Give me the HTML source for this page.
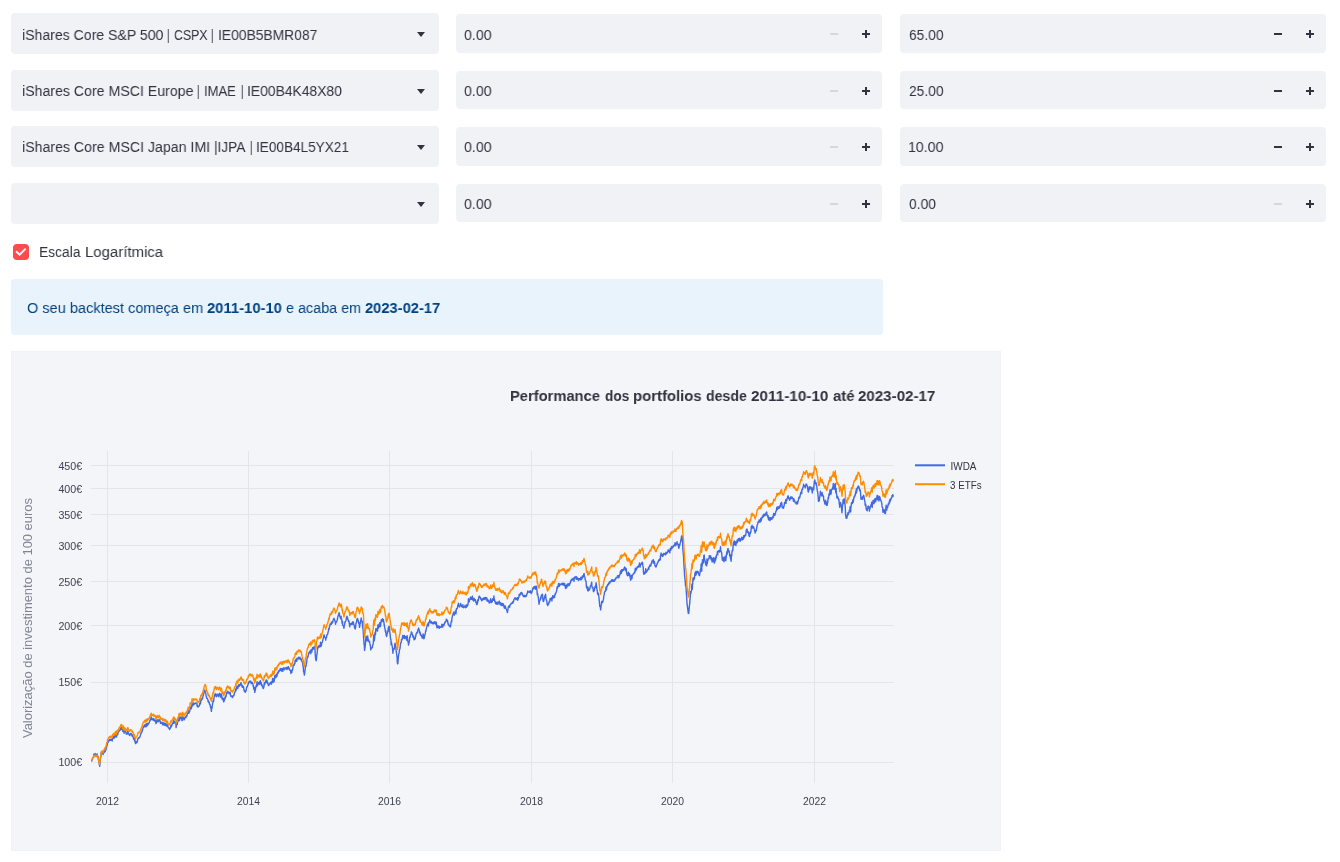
<!DOCTYPE html>
<html lang="pt"><head><meta charset="utf-8"><title>Backtest</title>
<style>
html,body{margin:0;padding:0;background:#fff;}
body{width:1340px;height:862px;overflow:hidden;position:relative;font-family:'Liberation Sans', sans-serif;color:#31333F;}
.t{position:absolute;white-space:nowrap;line-height:1;transform-origin:0 0;will-change:transform;}
.sel{position:absolute;left:11px;width:428px;height:41px;background:#F0F2F6;border-radius:4px;}
.num{position:absolute;width:426px;height:38.5px;background:#F0F2F6;border-radius:4px;}
.arr{position:absolute;right:14.5px;top:19px;width:0;height:0;border-left:4.5px solid transparent;border-right:4.5px solid transparent;border-top:5px solid #31333F;}
.minus,.plus{position:absolute;top:0;width:32px;height:100%;}
.minus{right:32px}.plus{right:0}
.minus:before,.plus:before,.plus:after{content:"";position:absolute;background:#31333F;left:12px;top:19px;width:8px;height:2px;}
.plus:after{left:15px;top:16px;width:2px;height:8px;}
.dis:before{background:#D3D7E0;}
.cbx{position:absolute;left:13px;top:244px;width:16px;height:16px;background:#FF4B4B;border-radius:4px;}
.info{position:absolute;left:11px;top:279px;width:872px;height:56px;background:#E8F3FC;border-radius:4px;}
.panel{position:absolute;left:11px;top:351px;width:990px;height:500px;background:#F4F5F9;box-shadow:inset 0 0 0 1px #F1F2F6;}
.chart{position:absolute;left:0;top:0;will-change:transform;}
</style></head><body>
<div class="sel" style="top:13.0px"><i class="arr"></i></div>
<div class="num" style="left:456px;top:14.0px"><i class="minus dis"></i><i class="plus"></i></div>
<div class="num" style="left:900px;top:14.0px"><i class="minus"></i><i class="plus"></i></div>
<div class="sel" style="top:69.5px"><i class="arr"></i></div>
<div class="num" style="left:456px;top:70.5px"><i class="minus dis"></i><i class="plus"></i></div>
<div class="num" style="left:900px;top:70.5px"><i class="minus"></i><i class="plus"></i></div>
<div class="sel" style="top:126.0px"><i class="arr"></i></div>
<div class="num" style="left:456px;top:127.0px"><i class="minus dis"></i><i class="plus"></i></div>
<div class="num" style="left:900px;top:127.0px"><i class="minus"></i><i class="plus"></i></div>
<div class="sel" style="top:182.5px"><i class="arr"></i></div>
<div class="num" style="left:456px;top:183.5px"><i class="minus dis"></i><i class="plus"></i></div>
<div class="num" style="left:900px;top:183.5px"><i class="minus dis"></i><i class="plus"></i></div>
<div class="cbx"><svg width="16" height="16" viewBox="0 0 16 16"><path d="M3.8 7.9 L6.6 10.7 L12 5.3" fill="none" stroke="#F0F4F8" stroke-width="2" stroke-linecap="square"/></svg></div>
<div class="info"></div>
<div class="panel"><svg class="chart" width="990" height="500" viewBox="11 351 990 500">
<g stroke="#E2E5EC" stroke-width="1" shape-rendering="crispEdges"><line x1="91" x2="894" y1="762.5" y2="762.5"/>
<line x1="91" x2="894" y1="682.5" y2="682.5"/>
<line x1="91" x2="894" y1="625.5" y2="625.5"/>
<line x1="91" x2="894" y1="581.5" y2="581.5"/>
<line x1="91" x2="894" y1="545.5" y2="545.5"/>
<line x1="91" x2="894" y1="514.5" y2="514.5"/>
<line x1="91" x2="894" y1="488.5" y2="488.5"/>
<line x1="91" x2="894" y1="465.5" y2="465.5"/>
<line x1="107.5" x2="107.5" y1="451" y2="783"/>
<line x1="248.5" x2="248.5" y1="451" y2="783"/>
<line x1="389.5" x2="389.5" y1="451" y2="783"/>
<line x1="531.5" x2="531.5" y1="451" y2="783"/>
<line x1="672.5" x2="672.5" y1="451" y2="783"/>
<line x1="814.5" x2="814.5" y1="451" y2="783"/></g>
<g font-family="Liberation Sans, sans-serif" font-size="11" fill="#3E4250"><text x="82.2" y="765.9" text-anchor="end" textLength="23.8" lengthAdjust="spacingAndGlyphs">100€</text>
<text x="82.2" y="685.9" text-anchor="end" textLength="23.8" lengthAdjust="spacingAndGlyphs">150€</text>
<text x="82.2" y="629.8" text-anchor="end" textLength="23.8" lengthAdjust="spacingAndGlyphs">200€</text>
<text x="82.2" y="585.8" text-anchor="end" textLength="23.8" lengthAdjust="spacingAndGlyphs">250€</text>
<text x="82.2" y="549.6" text-anchor="end" textLength="23.8" lengthAdjust="spacingAndGlyphs">300€</text>
<text x="82.2" y="518.7" text-anchor="end" textLength="23.8" lengthAdjust="spacingAndGlyphs">350€</text>
<text x="82.2" y="493.0" text-anchor="end" textLength="23.8" lengthAdjust="spacingAndGlyphs">400€</text>
<text x="82.2" y="469.9" text-anchor="end" textLength="23.8" lengthAdjust="spacingAndGlyphs">450€</text>
<text x="107.5" y="805" text-anchor="middle" textLength="23" lengthAdjust="spacingAndGlyphs">2012</text>
<text x="248.5" y="805" text-anchor="middle" textLength="23" lengthAdjust="spacingAndGlyphs">2014</text>
<text x="389.5" y="805" text-anchor="middle" textLength="23" lengthAdjust="spacingAndGlyphs">2016</text>
<text x="531.5" y="805" text-anchor="middle" textLength="23" lengthAdjust="spacingAndGlyphs">2018</text>
<text x="672.5" y="805" text-anchor="middle" textLength="23" lengthAdjust="spacingAndGlyphs">2020</text>
<text x="814.5" y="805" text-anchor="middle" textLength="23" lengthAdjust="spacingAndGlyphs">2022</text></g>
<text transform="translate(32,618) rotate(-90)" x="0" y="0" text-anchor="middle" font-family="Liberation Sans, sans-serif" font-size="13" fill="#808495" textLength="240" lengthAdjust="spacingAndGlyphs">Valorização de investimento de 100 euros</text>
<g fill="none" stroke-width="1.4" stroke-linejoin="round">
<polyline stroke="#4169E1" points="91.3,761.4 91.6,761.2 91.9,760.8 92.1,759.5 92.4,758.7 92.7,757.8 93.0,757.7 93.3,756.9 93.5,756.8 93.8,754.3 94.1,755.8 94.4,754.5 94.7,754.3 94.9,753.8 95.2,753.6 95.5,754.5 95.8,755.4 96.1,754.8 96.3,754.8 96.6,755.8 96.9,754.7 97.2,753.8 97.5,755.6 97.7,756.3 98.0,756.3 98.3,758.3 98.6,760.3 98.9,761.2 99.1,762.1 99.4,764.9 99.7,766.3 100.0,763.3 100.3,760.1 100.5,758.6 100.8,756.9 101.1,753.7 101.4,751.9 101.7,752.8 101.9,752.1 102.2,751.5 102.5,752.7 102.8,753.3 103.1,754.6 103.3,752.8 103.6,753.1 103.9,752.8 104.2,751.0 104.5,751.8 104.7,752.0 105.0,750.2 105.3,751.3 105.6,750.5 105.9,749.6 106.1,748.5 106.4,748.1 106.7,745.2 107.0,745.6 107.3,745.2 107.5,742.2 107.8,742.7 108.1,741.8 108.4,742.0 108.7,740.7 108.9,740.6 109.2,740.8 109.5,739.5 109.8,740.5 110.1,740.0 110.3,740.3 110.6,739.2 110.9,740.4 111.2,740.2 111.5,739.2 111.7,739.6 112.0,740.2 112.3,740.9 112.6,737.5 112.9,738.8 113.1,738.6 113.4,737.8 113.7,736.4 114.0,738.1 114.3,735.9 114.5,736.8 114.8,737.7 115.1,734.9 115.4,735.0 115.7,733.8 115.9,734.9 116.2,736.3 116.5,737.1 116.8,733.3 117.1,732.9 117.3,733.9 117.6,734.9 117.9,733.8 118.2,732.0 118.5,732.2 118.7,731.7 119.0,731.1 119.3,730.1 119.6,730.7 119.9,730.6 120.1,729.9 120.4,729.3 120.7,727.7 121.0,727.8 121.3,729.3 121.5,728.2 121.8,726.3 122.1,728.9 122.4,729.2 122.7,731.2 122.9,730.0 123.2,729.2 123.5,728.1 123.8,730.8 124.1,733.3 124.3,730.9 124.6,730.4 124.9,731.7 125.2,730.9 125.5,731.5 125.7,731.8 126.0,732.6 126.3,734.1 126.6,733.6 126.9,734.4 127.1,733.3 127.4,733.7 127.7,731.4 128.0,731.3 128.3,733.6 128.5,733.0 128.8,734.1 129.1,734.4 129.4,735.4 129.7,735.2 129.9,735.4 130.2,734.4 130.5,733.6 130.8,733.5 131.1,734.0 131.3,733.8 131.6,734.5 131.9,735.5 132.2,736.4 132.5,736.3 132.7,734.9 133.0,736.6 133.3,737.7 133.6,739.2 133.9,739.4 134.1,738.5 134.4,738.3 134.7,741.3 135.0,741.3 135.3,742.6 135.5,743.6 135.8,741.2 136.1,741.8 136.4,742.3 136.7,742.8 136.9,742.5 137.2,741.6 137.5,741.0 137.8,738.7 138.1,738.9 138.3,738.0 138.6,738.3 138.9,737.4 139.2,737.9 139.5,737.9 139.7,737.1 140.0,736.4 140.3,735.7 140.6,734.5 140.9,733.8 141.1,732.8 141.4,732.9 141.7,732.1 142.0,731.9 142.3,729.4 142.5,730.4 142.8,728.5 143.1,727.5 143.4,727.2 143.7,726.2 143.9,726.8 144.2,726.0 144.5,725.1 144.8,724.9 145.1,727.0 145.3,726.3 145.6,724.7 145.9,725.2 146.2,723.7 146.5,726.5 146.7,724.0 147.0,725.0 147.3,725.4 147.6,723.3 147.9,724.0 148.1,724.6 148.4,724.0 148.7,723.2 149.0,723.3 149.3,722.2 149.5,721.7 149.8,720.7 150.1,720.8 150.4,718.9 150.7,719.7 150.9,718.3 151.2,716.9 151.5,717.6 151.8,719.5 152.1,719.8 152.3,718.6 152.6,719.8 152.9,719.3 153.2,719.7 153.5,720.3 153.7,718.4 154.0,720.5 154.3,720.3 154.6,720.9 154.9,720.2 155.1,719.8 155.4,720.2 155.7,722.1 156.0,723.6 156.3,722.3 156.5,722.9 156.8,721.7 157.1,719.5 157.4,720.8 157.7,721.5 157.9,720.8 158.2,721.3 158.5,721.6 158.8,720.2 159.1,719.1 159.3,719.9 159.6,720.3 159.9,720.4 160.2,722.0 160.5,723.4 160.7,721.7 161.0,722.4 161.3,723.0 161.6,723.1 161.9,723.6 162.1,722.4 162.4,723.2 162.7,724.9 163.0,724.4 163.3,722.8 163.5,723.6 163.8,724.7 164.1,724.3 164.4,723.2 164.7,725.2 164.9,723.1 165.2,724.4 165.5,724.5 165.8,723.5 166.1,725.8 166.3,725.9 166.6,724.5 166.9,726.1 167.2,725.7 167.5,724.3 167.7,725.2 168.0,726.7 168.3,727.8 168.6,727.9 168.9,727.9 169.1,728.6 169.4,728.3 169.7,729.5 170.0,728.5 170.3,727.9 170.5,727.7 170.8,725.7 171.1,725.1 171.4,726.8 171.7,725.9 171.9,724.7 172.2,724.6 172.5,723.4 172.8,723.5 173.1,722.3 173.3,722.5 173.6,720.7 173.9,723.3 174.2,722.4 174.5,721.1 174.7,722.1 175.0,722.5 175.3,723.2 175.6,722.3 175.9,723.6 176.1,727.6 176.4,724.0 176.7,724.5 177.0,724.1 177.3,724.6 177.5,722.2 177.8,720.9 178.1,721.3 178.4,720.2 178.7,720.7 178.9,717.6 179.2,717.7 179.5,720.6 179.8,717.9 180.1,716.8 180.3,717.4 180.6,717.6 180.9,718.6 181.2,718.3 181.5,717.3 181.7,718.0 182.0,720.7 182.3,720.3 182.6,716.0 182.9,717.3 183.1,717.0 183.4,718.5 183.7,718.2 184.0,720.0 184.3,719.4 184.5,719.0 184.8,717.9 185.1,717.1 185.4,717.0 185.7,717.8 185.9,717.1 186.2,715.8 186.5,716.8 186.8,715.9 187.1,715.1 187.3,713.9 187.6,713.5 187.9,713.1 188.2,710.6 188.5,713.4 188.7,713.3 189.0,712.0 189.3,712.4 189.6,711.5 189.9,710.6 190.1,706.9 190.4,707.5 190.7,708.0 191.0,708.8 191.3,708.9 191.5,708.1 191.8,705.2 192.1,703.0 192.4,704.9 192.7,705.0 192.9,705.8 193.2,704.8 193.5,704.7 193.8,702.8 194.1,704.0 194.3,703.4 194.6,703.9 194.9,704.0 195.2,703.4 195.5,703.5 195.7,703.0 196.0,703.5 196.3,703.6 196.6,703.1 196.9,703.2 197.1,706.1 197.4,705.5 197.7,706.8 198.0,707.1 198.3,706.5 198.5,706.3 198.8,706.3 199.1,706.0 199.4,705.9 199.7,703.4 199.9,702.8 200.2,702.7 200.5,703.9 200.8,699.8 201.1,700.8 201.3,699.7 201.6,699.9 201.9,698.5 202.2,698.3 202.5,698.9 202.7,697.3 203.0,696.3 203.3,695.3 203.6,693.3 203.9,693.3 204.1,692.0 204.4,690.4 204.7,690.1 205.0,690.3 205.3,692.3 205.5,692.7 205.8,693.0 206.1,695.7 206.4,696.8 206.7,698.0 206.9,698.4 207.2,698.4 207.5,698.6 207.8,699.5 208.1,701.6 208.3,701.9 208.6,700.9 208.9,702.5 209.2,702.2 209.5,704.2 209.7,704.0 210.0,704.3 210.3,706.4 210.6,707.4 210.9,706.6 211.1,709.3 211.4,711.4 211.7,707.2 212.0,708.4 212.3,705.5 212.5,704.0 212.8,703.0 213.1,700.6 213.4,701.9 213.7,700.7 213.9,698.3 214.2,697.2 214.5,694.8 214.8,694.4 215.1,695.9 215.3,693.6 215.6,694.1 215.9,694.9 216.2,696.0 216.5,696.7 216.7,695.0 217.0,694.1 217.3,695.0 217.6,694.4 217.9,694.2 218.1,695.6 218.4,696.6 218.7,695.5 219.0,694.8 219.3,695.4 219.5,693.1 219.8,694.3 220.1,693.7 220.4,697.2 220.7,696.7 220.9,696.2 221.2,696.0 221.5,693.9 221.8,696.8 222.1,699.1 222.3,697.7 222.6,699.1 222.9,699.9 223.2,698.1 223.5,700.4 223.7,701.9 224.0,701.1 224.3,699.9 224.6,700.0 224.9,697.2 225.1,697.5 225.4,698.2 225.7,695.6 226.0,696.6 226.3,695.1 226.5,692.5 226.8,693.2 227.1,692.1 227.4,692.7 227.7,691.1 227.9,693.0 228.2,692.0 228.5,692.8 228.8,692.1 229.1,692.2 229.3,693.9 229.6,693.5 229.9,692.8 230.2,692.3 230.5,695.1 230.7,696.0 231.0,695.7 231.3,696.6 231.6,696.1 231.9,696.3 232.1,696.9 232.4,697.5 232.7,697.2 233.0,695.6 233.3,696.2 233.5,696.0 233.8,694.9 234.1,695.0 234.4,693.2 234.7,692.4 234.9,692.3 235.2,691.3 235.5,691.4 235.8,688.9 236.1,690.4 236.3,688.2 236.6,687.7 236.9,686.1 237.2,687.5 237.5,688.5 237.7,688.5 238.0,688.1 238.3,685.3 238.6,685.0 238.9,685.1 239.1,684.5 239.4,686.2 239.7,685.7 240.0,685.2 240.3,685.3 240.5,683.8 240.8,683.1 241.1,682.8 241.4,684.4 241.7,685.2 241.9,686.0 242.2,687.2 242.5,685.4 242.8,685.9 243.1,687.2 243.3,686.4 243.6,687.3 243.9,689.5 244.2,690.7 244.5,691.4 244.7,690.9 245.0,690.8 245.3,692.4 245.6,691.0 245.9,690.5 246.1,690.9 246.4,688.7 246.7,687.2 247.0,686.7 247.3,686.7 247.5,686.0 247.8,684.9 248.1,684.7 248.4,682.4 248.7,682.2 248.9,683.1 249.2,682.2 249.5,681.3 249.8,681.1 250.1,681.2 250.3,681.8 250.6,681.1 250.9,682.0 251.2,683.7 251.5,682.3 251.7,683.2 252.0,683.2 252.3,682.3 252.6,683.5 252.9,683.7 253.1,686.1 253.4,685.6 253.7,688.5 254.0,689.3 254.3,687.4 254.5,690.2 254.8,692.4 255.1,689.8 255.4,690.3 255.7,687.1 255.9,687.6 256.2,685.4 256.5,686.4 256.8,683.9 257.1,681.7 257.3,683.6 257.6,685.7 257.9,683.3 258.2,683.9 258.5,683.3 258.7,682.5 259.0,683.2 259.3,684.3 259.6,681.7 259.9,682.5 260.1,682.5 260.4,680.6 260.7,683.0 261.0,684.5 261.3,682.6 261.5,685.2 261.8,684.7 262.1,684.8 262.4,686.9 262.7,686.8 262.9,687.2 263.2,688.6 263.5,688.2 263.8,687.4 264.1,684.4 264.3,682.8 264.6,684.7 264.9,682.9 265.2,683.1 265.5,681.5 265.7,681.6 266.0,680.1 266.3,682.3 266.6,680.0 266.9,680.1 267.1,681.1 267.4,683.5 267.7,682.3 268.0,684.0 268.3,685.0 268.5,685.6 268.8,685.5 269.1,684.3 269.4,684.3 269.7,683.5 269.9,683.9 270.2,683.2 270.5,682.1 270.8,682.2 271.1,682.4 271.3,684.2 271.6,681.9 271.9,681.8 272.2,682.8 272.5,679.4 272.7,678.4 273.0,678.5 273.3,679.5 273.6,682.3 273.9,681.1 274.1,681.3 274.4,679.8 274.7,676.5 275.0,675.2 275.3,677.8 275.5,677.6 275.8,675.6 276.1,677.1 276.4,674.5 276.7,676.0 276.9,676.6 277.2,674.1 277.5,672.6 277.8,673.7 278.1,671.8 278.3,672.8 278.6,670.7 278.9,671.7 279.2,671.3 279.5,670.6 279.7,669.7 280.0,670.5 280.3,668.5 280.6,669.4 280.9,669.4 281.1,670.5 281.4,668.8 281.7,671.1 282.0,669.8 282.3,668.4 282.5,670.4 282.8,671.3 283.1,669.6 283.4,668.2 283.7,668.5 283.9,667.8 284.2,667.9 284.5,669.7 284.8,669.1 285.1,668.5 285.3,668.4 285.6,667.9 285.9,668.6 286.2,668.7 286.5,667.4 286.7,667.4 287.0,669.6 287.3,668.3 287.6,667.1 287.9,668.9 288.1,667.7 288.4,666.6 288.7,668.4 289.0,667.8 289.3,668.4 289.5,669.8 289.8,670.2 290.1,670.0 290.4,670.6 290.7,671.1 290.9,673.5 291.2,671.6 291.5,670.5 291.8,672.3 292.1,669.8 292.3,670.4 292.6,670.0 292.9,667.8 293.2,665.2 293.5,665.7 293.7,665.6 294.0,665.4 294.3,663.8 294.6,663.9 294.9,663.6 295.1,660.5 295.4,661.5 295.7,660.5 296.0,659.4 296.3,659.2 296.5,661.3 296.8,661.1 297.1,658.1 297.4,658.9 297.7,658.9 297.9,658.8 298.2,658.3 298.5,657.1 298.8,659.0 299.1,657.8 299.3,657.8 299.6,657.6 299.9,657.3 300.2,658.9 300.5,659.5 300.7,658.8 301.0,658.5 301.3,659.2 301.6,661.1 301.9,661.2 302.1,661.6 302.4,662.0 302.7,663.9 303.0,666.3 303.3,666.4 303.5,671.2 303.8,671.7 304.1,673.4 304.4,675.1 304.7,673.1 304.9,671.2 305.2,669.0 305.5,666.2 305.8,666.1 306.1,666.1 306.3,663.0 306.6,663.2 306.9,659.8 307.2,658.0 307.5,657.7 307.7,656.6 308.0,656.9 308.3,655.2 308.6,654.1 308.9,652.6 309.1,652.4 309.4,652.3 309.7,651.6 310.0,652.8 310.3,652.0 310.5,650.1 310.8,653.7 311.1,651.3 311.4,649.8 311.7,651.5 311.9,651.8 312.2,649.3 312.5,647.8 312.8,647.5 313.1,649.4 313.3,648.3 313.6,647.2 313.9,647.3 314.2,648.4 314.5,646.4 314.7,648.8 315.0,650.0 315.3,655.4 315.6,658.4 315.9,659.9 316.1,660.7 316.4,659.9 316.7,655.2 317.0,654.6 317.3,651.5 317.5,649.1 317.8,647.6 318.1,646.2 318.4,647.1 318.7,647.4 318.9,646.9 319.2,645.4 319.5,646.4 319.8,645.8 320.1,646.8 320.3,644.8 320.6,642.1 320.9,643.4 321.2,646.2 321.5,644.8 321.7,643.1 322.0,643.1 322.3,642.1 322.6,641.2 322.9,639.4 323.1,638.8 323.4,638.2 323.7,636.6 324.0,635.0 324.3,635.4 324.5,636.9 324.8,637.3 325.1,637.5 325.4,637.7 325.7,640.1 325.9,637.9 326.2,637.4 326.5,637.7 326.8,635.4 327.1,634.4 327.3,634.4 327.6,634.6 327.9,632.8 328.2,631.7 328.5,630.6 328.7,628.4 329.0,629.6 329.3,628.2 329.6,625.7 329.9,626.0 330.1,624.1 330.4,623.8 330.7,624.3 331.0,623.2 331.3,624.4 331.5,621.9 331.8,622.4 332.1,622.5 332.4,623.0 332.7,622.3 332.9,620.9 333.2,619.9 333.5,619.0 333.8,619.6 334.1,618.3 334.3,619.7 334.6,620.0 334.9,621.0 335.2,621.2 335.5,624.3 335.7,622.9 336.0,622.7 336.3,622.0 336.6,621.7 336.9,620.9 337.1,620.1 337.4,619.9 337.7,616.8 338.0,616.7 338.3,615.0 338.5,615.4 338.8,613.5 339.1,612.6 339.4,613.7 339.7,616.2 339.9,616.7 340.2,617.0 340.5,618.7 340.8,617.3 341.1,616.1 341.3,617.9 341.6,619.1 341.9,621.5 342.2,623.7 342.5,621.4 342.7,624.9 343.0,625.7 343.3,625.7 343.6,625.6 343.9,628.2 344.1,626.9 344.4,624.8 344.7,624.1 345.0,621.8 345.3,622.2 345.5,621.2 345.8,620.8 346.1,620.1 346.4,617.8 346.7,618.8 346.9,616.2 347.2,618.2 347.5,617.1 347.8,619.4 348.1,619.6 348.3,621.2 348.6,621.7 348.9,620.9 349.2,622.4 349.5,624.7 349.7,626.8 350.0,625.4 350.3,623.6 350.6,623.9 350.9,624.4 351.1,623.9 351.4,623.2 351.7,624.4 352.0,624.6 352.3,624.1 352.5,621.9 352.8,622.0 353.1,622.5 353.4,621.9 353.7,624.5 353.9,625.0 354.2,625.0 354.5,627.4 354.8,628.1 355.1,628.8 355.3,628.9 355.6,627.2 355.9,623.7 356.2,622.6 356.5,622.8 356.7,620.2 357.0,619.3 357.3,618.5 357.6,618.6 357.9,620.0 358.1,621.0 358.4,620.9 358.7,623.0 359.0,624.1 359.3,624.5 359.5,627.4 359.8,626.0 360.1,622.8 360.4,623.3 360.7,620.6 360.9,619.8 361.2,618.0 361.5,620.3 361.8,620.8 362.1,621.7 362.3,621.6 362.6,627.8 362.9,627.8 363.2,630.9 363.5,636.2 363.7,639.0 364.0,643.5 364.3,645.1 364.6,650.5 364.9,648.1 365.1,646.8 365.4,644.2 365.7,639.5 366.0,636.3 366.3,637.1 366.5,640.1 366.8,640.8 367.1,641.1 367.4,637.9 367.7,635.9 367.9,638.3 368.2,639.7 368.5,639.9 368.8,641.4 369.1,641.9 369.3,641.1 369.6,641.7 369.9,643.9 370.2,645.1 370.5,645.7 370.7,649.9 371.0,648.1 371.3,648.6 371.6,647.6 371.9,647.6 372.1,647.8 372.4,647.3 372.7,645.3 373.0,644.6 373.3,643.2 373.5,639.2 373.8,635.0 374.1,640.9 374.4,640.1 374.7,637.7 374.9,633.7 375.2,632.1 375.5,634.6 375.8,628.7 376.1,629.4 376.3,630.6 376.6,629.2 376.9,629.6 377.2,628.2 377.5,631.1 377.7,627.0 378.0,624.8 378.3,626.1 378.6,628.0 378.9,626.2 379.1,627.0 379.4,624.7 379.7,622.7 380.0,625.5 380.3,626.4 380.5,626.5 380.8,623.3 381.1,620.9 381.4,619.8 381.7,620.5 381.9,621.6 382.2,621.6 382.5,618.6 382.8,619.6 383.1,619.4 383.3,619.4 383.6,621.0 383.9,622.3 384.2,625.0 384.5,626.3 384.7,628.0 385.0,628.3 385.3,631.0 385.6,632.3 385.9,631.0 386.1,635.3 386.4,635.7 386.7,636.5 387.0,634.6 387.3,633.4 387.5,632.9 387.8,631.8 388.1,630.2 388.4,627.1 388.7,630.7 388.9,626.4 389.2,626.3 389.5,629.8 389.8,631.8 390.1,634.0 390.3,636.2 390.6,638.9 390.9,639.6 391.2,644.9 391.5,642.2 391.7,644.3 392.0,645.3 392.3,646.6 392.6,649.5 392.9,653.3 393.1,651.1 393.4,648.9 393.7,649.4 394.0,648.4 394.3,649.2 394.5,647.2 394.8,644.5 395.1,643.1 395.4,645.6 395.7,647.2 395.9,647.4 396.2,650.9 396.5,653.2 396.8,655.3 397.1,657.1 397.3,662.2 397.6,663.9 397.9,663.3 398.2,659.2 398.5,655.9 398.7,654.6 399.0,653.6 399.3,651.2 399.6,649.3 399.9,649.2 400.1,647.7 400.4,644.6 400.7,643.6 401.0,642.2 401.3,642.2 401.5,639.5 401.8,639.3 402.1,639.7 402.4,638.2 402.7,635.6 402.9,635.4 403.2,636.5 403.5,637.4 403.8,638.3 404.1,637.3 404.3,635.4 404.6,638.5 404.9,638.1 405.2,638.2 405.5,638.1 405.7,636.4 406.0,637.1 406.3,638.4 406.6,640.1 406.9,639.6 407.1,635.6 407.4,638.2 407.7,640.1 408.0,642.2 408.3,642.4 408.5,645.0 408.8,643.7 409.1,642.5 409.4,640.9 409.7,636.9 409.9,637.6 410.2,637.0 410.5,634.7 410.8,634.7 411.1,633.9 411.3,631.9 411.6,631.9 411.9,632.7 412.2,634.3 412.5,634.7 412.7,636.7 413.0,635.1 413.3,637.2 413.6,636.9 413.9,638.9 414.1,639.9 414.4,639.2 414.7,638.4 415.0,637.8 415.3,638.9 415.5,635.8 415.8,636.5 416.1,633.7 416.4,633.4 416.7,633.6 416.9,632.1 417.2,632.3 417.5,632.5 417.8,630.0 418.1,629.9 418.3,629.3 418.6,628.0 418.9,629.7 419.2,629.9 419.5,632.5 419.7,631.4 420.0,633.9 420.3,632.8 420.6,635.2 420.9,634.9 421.1,635.0 421.4,635.6 421.7,636.2 422.0,637.2 422.3,638.2 422.5,636.7 422.8,635.5 423.1,633.9 423.4,635.9 423.7,638.1 423.9,638.7 424.2,638.3 424.5,636.6 424.8,635.0 425.1,634.1 425.3,633.7 425.6,630.7 425.9,631.4 426.2,628.7 426.5,628.4 426.7,627.1 427.0,626.2 427.3,625.0 427.6,624.1 427.9,624.3 428.1,623.2 428.4,626.0 428.7,623.7 429.0,622.4 429.3,622.2 429.5,621.6 429.8,620.0 430.1,621.7 430.4,622.8 430.7,621.4 430.9,622.4 431.2,621.5 431.5,622.4 431.8,623.2 432.1,623.6 432.3,623.6 432.6,622.5 432.9,623.7 433.2,622.8 433.5,623.3 433.7,623.8 434.0,623.0 434.3,621.7 434.6,623.2 434.9,622.0 435.1,622.0 435.4,622.0 435.7,624.2 436.0,624.1 436.3,622.1 436.5,624.7 436.8,627.1 437.1,627.9 437.4,625.9 437.7,626.0 437.9,626.7 438.2,627.5 438.5,627.1 438.8,626.0 439.1,627.7 439.3,628.3 439.6,626.7 439.9,626.7 440.2,627.2 440.5,626.9 440.7,627.2 441.0,627.4 441.3,627.0 441.6,626.0 441.9,624.2 442.1,625.4 442.4,626.5 442.7,627.2 443.0,625.3 443.3,624.4 443.5,625.4 443.8,625.6 444.1,624.4 444.4,624.2 444.7,622.5 444.9,623.1 445.2,621.7 445.5,621.8 445.8,621.7 446.1,621.1 446.3,619.1 446.6,619.6 446.9,620.8 447.2,620.6 447.5,620.3 447.7,622.0 448.0,623.4 448.3,624.6 448.6,623.9 448.9,625.1 449.1,625.8 449.4,626.0 449.7,626.0 450.0,626.7 450.3,625.1 450.5,626.8 450.8,624.3 451.1,622.5 451.4,620.9 451.7,621.9 451.9,618.5 452.2,617.3 452.5,615.5 452.8,614.7 453.1,613.7 453.3,614.4 453.6,612.3 453.9,613.1 454.2,615.2 454.5,613.8 454.7,613.7 455.0,613.0 455.3,611.0 455.6,613.0 455.9,613.9 456.1,611.7 456.4,608.8 456.7,609.2 457.0,608.4 457.3,608.3 457.5,607.5 457.8,605.2 458.1,605.2 458.4,603.2 458.7,605.6 458.9,605.6 459.2,606.6 459.5,607.0 459.8,605.8 460.1,605.6 460.3,604.9 460.6,603.5 460.9,605.1 461.2,606.0 461.5,605.1 461.7,606.7 462.0,606.7 462.3,607.1 462.6,606.1 462.9,604.8 463.1,607.0 463.4,607.7 463.7,607.2 464.0,606.8 464.3,606.9 464.5,607.1 464.8,606.9 465.1,605.3 465.4,607.7 465.7,606.2 465.9,607.0 466.2,607.3 466.5,607.2 466.8,604.8 467.1,606.4 467.3,605.9 467.6,605.3 467.9,605.2 468.2,602.5 468.5,598.7 468.7,600.4 469.0,601.6 469.3,601.7 469.6,599.8 469.9,599.4 470.1,599.5 470.4,597.2 470.7,597.4 471.0,597.3 471.3,599.4 471.5,597.6 471.8,599.1 472.1,598.1 472.4,596.3 472.7,599.9 472.9,598.0 473.2,599.2 473.5,601.0 473.8,599.5 474.1,598.5 474.3,600.6 474.6,600.6 474.9,599.4 475.2,599.4 475.5,600.3 475.7,602.2 476.0,601.8 476.3,602.8 476.6,604.4 476.9,604.6 477.1,604.2 477.4,603.5 477.7,600.0 478.0,601.3 478.3,600.4 478.5,599.3 478.8,597.6 479.1,596.1 479.4,596.2 479.7,597.5 479.9,596.9 480.2,597.2 480.5,597.6 480.8,599.2 481.1,598.9 481.3,599.0 481.6,600.7 481.9,599.7 482.2,600.4 482.5,598.8 482.7,599.6 483.0,599.5 483.3,599.5 483.6,598.7 483.9,597.8 484.1,598.1 484.4,598.0 484.7,599.4 485.0,599.6 485.3,597.5 485.5,598.5 485.8,597.6 486.1,598.5 486.4,598.3 486.7,597.7 486.9,600.4 487.2,601.2 487.5,600.1 487.8,599.4 488.1,600.8 488.3,600.3 488.6,600.8 488.9,601.9 489.2,603.0 489.5,601.4 489.7,602.5 490.0,602.6 490.3,600.8 490.6,598.8 490.9,600.6 491.1,600.8 491.4,602.6 491.7,602.1 492.0,601.2 492.3,601.7 492.5,598.9 492.8,599.1 493.1,598.5 493.4,600.3 493.7,599.6 493.9,595.9 494.2,599.8 494.5,599.3 494.8,601.4 495.1,601.3 495.3,602.4 495.6,603.7 495.9,603.6 496.2,602.2 496.5,604.1 496.7,603.7 497.0,603.0 497.3,603.5 497.6,602.3 497.9,604.3 498.1,603.3 498.4,603.0 498.7,602.9 499.0,601.7 499.3,601.2 499.5,602.6 499.8,603.3 500.1,604.7 500.4,604.4 500.7,602.8 500.9,604.0 501.2,604.9 501.5,605.5 501.8,605.2 502.1,603.5 502.3,605.6 502.6,604.4 502.9,605.5 503.2,603.8 503.5,605.7 503.7,604.9 504.0,606.7 504.3,608.1 504.6,608.2 504.9,606.2 505.1,605.9 505.4,606.2 505.7,608.2 506.0,608.8 506.3,609.1 506.5,609.7 506.8,610.4 507.1,611.0 507.4,612.6 507.7,610.7 507.9,610.0 508.2,607.2 508.5,606.5 508.8,606.5 509.1,605.7 509.3,606.5 509.6,607.3 509.9,605.7 510.2,604.8 510.5,604.2 510.7,604.3 511.0,603.4 511.3,603.9 511.6,603.6 511.9,603.3 512.1,603.3 512.4,602.3 512.7,601.8 513.0,603.0 513.3,601.3 513.5,601.3 513.8,600.3 514.1,599.1 514.4,598.6 514.7,598.0 514.9,598.6 515.2,598.0 515.5,598.0 515.8,599.5 516.1,598.6 516.3,599.5 516.6,598.8 516.9,599.1 517.2,597.6 517.5,597.7 517.7,600.3 518.0,599.2 518.3,598.6 518.6,597.4 518.9,597.3 519.1,594.9 519.4,594.2 519.7,594.9 520.0,595.3 520.3,594.0 520.5,593.4 520.8,592.8 521.1,592.8 521.4,592.4 521.7,592.4 521.9,594.1 522.2,593.4 522.5,594.3 522.8,595.4 523.1,595.3 523.3,596.5 523.6,596.2 523.9,596.4 524.2,595.5 524.5,595.4 524.7,596.6 525.0,596.8 525.3,596.0 525.6,596.2 525.9,595.7 526.1,595.2 526.4,596.2 526.7,594.2 527.0,594.1 527.3,593.7 527.5,592.6 527.8,591.0 528.1,592.0 528.4,592.0 528.7,592.0 528.9,592.0 529.2,592.2 529.5,591.4 529.8,592.4 530.1,590.7 530.3,592.1 530.6,591.1 530.9,592.1 531.2,593.6 531.5,593.2 531.7,592.3 532.0,592.1 532.3,590.6 532.6,589.2 532.9,588.0 533.1,589.0 533.4,588.8 533.7,588.5 534.0,586.7 534.3,587.9 534.5,586.4 534.8,587.7 535.1,586.5 535.4,589.2 535.7,586.4 535.9,588.5 536.2,588.7 536.5,586.2 536.8,588.7 537.1,592.4 537.3,594.6 537.6,593.7 537.9,595.7 538.2,596.9 538.5,598.7 538.7,600.8 539.0,604.2 539.3,602.6 539.6,601.2 539.9,600.0 540.1,600.1 540.4,599.7 540.7,597.3 541.0,598.5 541.3,595.7 541.5,595.0 541.8,595.1 542.1,595.8 542.4,594.3 542.7,596.4 542.9,599.6 543.2,601.3 543.5,601.6 543.8,600.7 544.1,599.0 544.3,598.2 544.6,597.6 544.9,595.8 545.2,596.3 545.5,594.1 545.7,595.3 546.0,599.0 546.3,600.0 546.6,600.1 546.9,602.0 547.1,604.2 547.4,604.0 547.7,605.6 548.0,604.5 548.3,603.8 548.5,603.3 548.8,604.0 549.1,601.7 549.4,601.3 549.7,601.9 549.9,599.9 550.2,598.5 550.5,599.9 550.8,599.5 551.1,599.0 551.3,598.9 551.6,597.6 551.9,601.0 552.2,597.9 552.5,597.3 552.7,595.8 553.0,596.2 553.3,598.1 553.6,597.1 553.9,597.1 554.1,595.8 554.4,597.6 554.7,596.3 555.0,594.1 555.3,594.7 555.5,593.2 555.8,593.2 556.1,592.2 556.4,591.5 556.7,590.6 556.9,588.6 557.2,586.8 557.5,588.2 557.8,587.1 558.1,586.6 558.3,585.2 558.6,583.4 558.9,583.5 559.2,586.3 559.5,585.0 559.7,585.0 560.0,583.9 560.3,584.5 560.6,584.8 560.9,584.9 561.1,584.8 561.4,584.0 561.7,583.5 562.0,583.7 562.3,583.9 562.5,583.3 562.8,584.8 563.1,583.5 563.4,583.7 563.7,583.3 563.9,585.2 564.2,584.1 564.5,583.5 564.8,584.3 565.1,586.6 565.3,585.9 565.6,588.5 565.9,587.5 566.2,585.4 566.5,585.7 566.7,587.7 567.0,585.4 567.3,583.9 567.6,585.0 567.9,586.0 568.1,585.8 568.4,584.1 568.7,583.9 569.0,583.7 569.3,584.2 569.5,585.2 569.8,583.1 570.1,583.6 570.4,581.8 570.7,582.0 570.9,580.3 571.2,579.7 571.5,580.5 571.8,579.2 572.1,580.4 572.3,579.1 572.6,579.2 572.9,578.8 573.2,578.2 573.5,578.3 573.7,579.1 574.0,581.3 574.3,577.4 574.6,577.8 574.9,577.6 575.1,576.8 575.4,577.9 575.7,577.1 576.0,577.7 576.3,579.4 576.5,576.7 576.8,578.2 577.1,579.0 577.4,577.9 577.7,579.1 577.9,579.5 578.2,579.0 578.5,580.5 578.8,578.5 579.1,579.9 579.3,579.5 579.6,578.6 579.9,579.0 580.2,578.7 580.5,579.7 580.7,577.5 581.0,577.9 581.3,577.6 581.6,579.5 581.9,577.2 582.1,578.5 582.4,575.9 582.7,577.0 583.0,576.7 583.3,577.0 583.5,575.8 583.8,573.9 584.1,573.6 584.4,576.2 584.7,576.8 584.9,577.0 585.2,579.9 585.5,580.1 585.8,581.1 586.1,581.9 586.3,585.5 586.6,587.9 586.9,586.1 587.2,587.2 587.5,588.7 587.7,590.8 588.0,587.3 588.3,589.1 588.6,590.7 588.9,589.4 589.1,590.1 589.4,589.5 589.7,589.3 590.0,587.4 590.3,587.2 590.5,585.5 590.8,585.7 591.1,584.7 591.4,583.3 591.7,582.1 591.9,585.9 592.2,587.3 592.5,588.1 592.8,587.3 593.1,588.0 593.3,591.1 593.6,591.7 593.9,590.7 594.2,590.7 594.5,589.9 594.7,588.5 595.0,586.4 595.3,587.6 595.6,586.5 595.9,584.5 596.1,582.7 596.4,584.8 596.7,587.2 597.0,590.1 597.3,590.6 597.5,593.7 597.8,594.5 598.1,594.7 598.4,593.1 598.7,595.6 598.9,597.0 599.2,600.3 599.5,603.1 599.8,606.5 600.1,606.8 600.3,606.4 600.6,609.9 600.9,607.6 601.2,605.4 601.5,604.1 601.7,601.5 602.0,602.6 602.3,602.0 602.6,602.6 602.9,601.6 603.1,600.3 603.4,599.7 603.7,597.0 604.0,595.2 604.3,594.4 604.5,592.1 604.8,591.9 605.1,591.0 605.4,591.3 605.7,590.2 605.9,587.3 606.2,588.2 606.5,589.8 606.8,586.3 607.1,586.0 607.3,586.4 607.6,584.7 607.9,584.6 608.2,584.9 608.5,583.2 608.7,584.0 609.0,584.0 609.3,582.0 609.6,582.2 609.9,583.1 610.1,581.7 610.4,581.6 610.7,581.5 611.0,580.6 611.3,581.5 611.5,581.2 611.8,579.6 612.1,580.5 612.4,581.1 612.7,581.2 612.9,579.7 613.2,580.2 613.5,581.3 613.8,580.4 614.1,581.1 614.3,581.3 614.6,579.9 614.9,580.0 615.2,578.9 615.5,579.7 615.7,578.7 616.0,577.7 616.3,577.8 616.6,577.6 616.9,577.9 617.1,577.9 617.4,576.1 617.7,575.8 618.0,576.4 618.3,576.4 618.5,575.7 618.8,577.8 619.1,576.7 619.4,574.8 619.7,574.7 619.9,575.0 620.2,573.8 620.5,570.9 620.8,571.5 621.1,571.5 621.3,573.4 621.6,569.8 621.9,571.8 622.2,570.6 622.5,571.0 622.7,569.7 623.0,569.5 623.3,570.3 623.6,569.2 623.9,569.6 624.1,568.4 624.4,567.4 624.7,567.1 625.0,567.4 625.3,568.3 625.5,570.6 625.8,569.2 626.1,568.6 626.4,570.5 626.7,573.3 626.9,574.1 627.2,575.0 627.5,575.7 627.8,574.3 628.1,574.8 628.3,572.3 628.6,573.7 628.9,575.6 629.2,574.2 629.5,573.4 629.7,574.1 630.0,576.1 630.3,577.9 630.6,580.2 630.9,580.0 631.1,577.1 631.4,575.4 631.7,577.6 632.0,578.5 632.3,575.5 632.5,575.2 632.8,574.6 633.1,574.5 633.4,573.7 633.7,573.7 633.9,573.8 634.2,572.4 634.5,572.1 634.8,572.8 635.1,569.7 635.3,568.3 635.6,569.2 635.9,570.7 636.2,569.2 636.5,569.4 636.7,567.8 637.0,568.3 637.3,566.6 637.6,567.1 637.9,566.8 638.1,566.4 638.4,567.0 638.7,566.7 639.0,564.8 639.3,565.6 639.5,563.0 639.8,564.8 640.1,567.1 640.4,565.5 640.7,564.8 640.9,564.0 641.2,564.3 641.5,563.0 641.8,563.6 642.1,562.7 642.3,562.1 642.6,563.5 642.9,565.9 643.2,566.7 643.5,572.5 643.7,574.1 644.0,572.3 644.3,574.1 644.6,573.4 644.9,573.2 645.1,573.5 645.4,571.7 645.7,568.8 646.0,570.6 646.3,571.4 646.5,572.2 646.8,570.5 647.1,570.3 647.4,570.7 647.7,569.9 647.9,569.2 648.2,569.2 648.5,567.5 648.8,569.3 649.1,567.0 649.3,566.8 649.6,566.0 649.9,565.0 650.2,565.6 650.5,565.9 650.7,566.2 651.0,565.0 651.3,563.2 651.6,563.6 651.9,561.0 652.1,561.3 652.4,561.5 652.7,561.3 653.0,560.2 653.3,559.7 653.5,563.1 653.8,562.4 654.1,561.3 654.4,561.7 654.7,563.4 654.9,565.5 655.2,565.4 655.5,566.9 655.8,566.8 656.1,566.7 656.3,566.7 656.6,565.0 656.9,564.7 657.2,563.6 657.5,562.6 657.7,563.2 658.0,561.6 658.3,561.6 658.6,560.4 658.9,560.3 659.1,559.5 659.4,560.6 659.7,559.5 660.0,558.8 660.3,559.9 660.5,555.2 660.8,555.1 661.1,553.0 661.4,554.8 661.7,555.5 661.9,556.0 662.2,555.7 662.5,554.4 662.8,556.5 663.1,555.7 663.3,554.8 663.6,553.5 663.9,554.6 664.2,553.9 664.5,553.7 664.7,554.2 665.0,554.3 665.3,553.2 665.6,554.9 665.9,553.1 666.1,552.3 666.4,553.4 666.7,553.6 667.0,553.3 667.3,552.5 667.5,552.5 667.8,551.6 668.1,550.0 668.4,551.7 668.7,550.3 668.9,550.4 669.2,551.2 669.5,550.5 669.8,552.9 670.1,549.2 670.3,548.4 670.6,548.8 670.9,550.0 671.2,548.6 671.5,546.7 671.7,548.5 672.0,546.9 672.3,546.9 672.6,547.9 672.9,546.4 673.1,546.0 673.4,546.7 673.7,546.0 674.0,546.1 674.3,544.7 674.5,544.9 674.8,543.9 675.1,542.8 675.4,545.7 675.7,545.2 675.9,545.4 676.2,543.3 676.5,543.4 676.8,543.1 677.1,541.8 677.3,544.0 677.6,543.9 677.9,544.8 678.2,544.2 678.5,547.0 678.7,548.2 679.0,547.9 679.3,545.5 679.6,544.4 679.9,545.2 680.1,543.2 680.4,542.5 680.7,541.5 681.0,538.9 681.3,540.7 681.5,536.0 681.8,536.7 682.1,535.9 682.4,537.8 682.7,544.2 682.9,549.6 683.2,553.5 683.5,556.0 683.8,561.9 684.1,567.9 684.3,570.1 684.6,575.9 684.9,578.4 685.2,581.2 685.5,585.5 685.7,585.1 686.0,587.3 686.3,592.2 686.6,596.1 686.9,601.5 687.1,604.7 687.4,606.1 687.7,608.8 688.0,610.9 688.3,613.5 688.5,613.4 688.8,613.3 689.1,608.8 689.4,605.7 689.7,603.9 689.9,600.2 690.2,597.8 690.5,591.7 690.8,593.7 691.1,591.9 691.3,591.1 691.6,590.1 691.9,584.3 692.2,589.5 692.5,585.8 692.7,583.4 693.0,578.0 693.3,580.3 693.6,580.0 693.9,577.8 694.1,577.6 694.4,578.9 694.7,575.6 695.0,572.7 695.3,575.4 695.5,573.6 695.8,571.5 696.1,575.0 696.4,572.7 696.7,571.4 696.9,572.1 697.2,571.2 697.5,572.3 697.8,572.8 698.1,571.6 698.3,572.2 698.6,573.7 698.9,574.6 699.2,575.5 699.5,575.7 699.7,573.8 700.0,573.0 700.3,570.3 700.6,568.9 700.9,570.2 701.1,564.2 701.4,566.0 701.7,571.3 702.0,562.8 702.3,565.6 702.5,559.6 702.8,560.9 703.1,563.1 703.4,562.9 703.7,557.6 703.9,555.3 704.2,555.1 704.5,559.7 704.8,559.7 705.1,561.0 705.3,562.5 705.6,563.9 705.9,565.1 706.2,565.4 706.5,561.9 706.7,565.7 707.0,558.9 707.3,563.4 707.6,561.1 707.9,560.6 708.1,559.4 708.4,558.9 708.7,558.9 709.0,557.9 709.3,555.7 709.5,558.0 709.8,555.8 710.1,558.0 710.4,556.9 710.7,555.9 710.9,558.0 711.2,559.9 711.5,557.7 711.8,558.4 712.1,562.0 712.3,559.4 712.6,559.1 712.9,561.2 713.2,559.8 713.5,557.6 713.7,558.5 714.0,562.1 714.3,563.0 714.6,562.6 714.9,561.6 715.1,557.9 715.4,559.3 715.7,560.0 716.0,556.5 716.3,557.5 716.5,555.1 716.8,555.0 717.1,554.9 717.4,551.5 717.7,554.9 717.9,551.8 718.2,551.7 718.5,550.7 718.8,551.6 719.1,551.5 719.3,550.5 719.6,552.1 719.9,551.3 720.2,550.6 720.5,546.8 720.7,550.1 721.0,551.7 721.3,551.9 721.6,552.4 721.9,555.4 722.1,557.6 722.4,560.2 722.7,560.4 723.0,558.0 723.3,559.2 723.5,557.5 723.8,560.7 724.1,561.7 724.4,559.4 724.7,558.8 724.9,557.7 725.2,556.2 725.5,558.0 725.8,560.8 726.1,557.7 726.3,556.3 726.6,553.9 726.9,551.7 727.2,554.1 727.5,550.5 727.7,549.8 728.0,548.4 728.3,550.2 728.6,550.5 728.9,552.2 729.1,550.8 729.4,552.6 729.7,556.0 730.0,554.4 730.3,555.1 730.5,558.8 730.8,559.4 731.1,561.2 731.4,556.1 731.7,556.0 731.9,552.8 732.2,550.4 732.5,550.7 732.8,550.7 733.1,545.9 733.3,543.5 733.6,542.2 733.9,542.3 734.2,540.9 734.5,544.9 734.7,544.0 735.0,542.4 735.3,541.6 735.6,544.7 735.9,545.6 736.1,542.4 736.4,542.2 736.7,543.2 737.0,540.4 737.3,540.1 737.5,542.2 737.8,540.4 738.1,540.0 738.4,538.7 738.7,538.9 738.9,540.5 739.2,539.3 739.5,538.3 739.8,538.6 740.1,541.4 740.3,540.5 740.6,539.3 740.9,539.6 741.2,539.9 741.5,539.6 741.7,537.3 742.0,538.8 742.3,538.6 742.6,539.7 742.9,537.5 743.1,539.4 743.4,538.1 743.7,535.7 744.0,537.9 744.3,536.2 744.5,536.2 744.8,535.2 745.1,535.9 745.4,535.8 745.7,535.3 745.9,534.3 746.2,530.9 746.5,529.2 746.8,530.4 747.1,529.1 747.3,531.2 747.6,532.3 747.9,531.5 748.2,532.2 748.5,533.0 748.7,534.1 749.0,535.8 749.3,536.2 749.6,536.4 749.9,533.3 750.1,532.0 750.4,533.3 750.7,532.4 751.0,530.8 751.3,526.6 751.5,526.1 751.8,526.6 752.1,525.3 752.4,528.1 752.7,527.5 752.9,527.9 753.2,526.8 753.5,526.8 753.8,527.6 754.1,528.3 754.3,529.4 754.6,530.8 754.9,531.5 755.2,533.0 755.5,530.9 755.7,530.8 756.0,530.1 756.3,530.8 756.6,528.3 756.9,527.3 757.1,525.0 757.4,525.0 757.7,524.2 758.0,522.1 758.3,521.6 758.5,521.6 758.8,522.1 759.1,520.0 759.4,521.4 759.7,520.2 759.9,522.1 760.2,522.0 760.5,519.6 760.8,518.3 761.1,521.1 761.3,519.8 761.6,519.0 761.9,517.3 762.2,516.9 762.5,517.5 762.7,517.3 763.0,515.3 763.3,516.7 763.6,515.9 763.9,514.2 764.1,515.8 764.4,515.1 764.7,515.9 765.0,514.7 765.3,515.3 765.5,513.2 765.8,514.8 766.1,513.2 766.4,514.6 766.7,511.9 766.9,513.9 767.2,515.4 767.5,515.7 767.8,517.2 768.1,515.6 768.3,518.4 768.6,519.8 768.9,517.5 769.2,517.6 769.5,518.3 769.7,519.5 770.0,520.6 770.3,517.6 770.6,519.7 770.9,519.2 771.1,517.8 771.4,519.3 771.7,518.1 772.0,519.1 772.3,518.5 772.5,517.0 772.8,517.9 773.1,517.6 773.4,515.6 773.7,513.4 773.9,513.6 774.2,514.7 774.5,513.9 774.8,515.6 775.1,514.2 775.3,513.3 775.6,513.0 775.9,511.2 776.2,511.1 776.5,510.2 776.7,507.7 777.0,507.2 777.3,509.6 777.6,508.9 777.9,508.7 778.1,506.8 778.4,506.9 778.7,508.2 779.0,507.6 779.3,506.5 779.5,508.1 779.8,506.6 780.1,505.5 780.4,506.5 780.7,503.3 780.9,504.6 781.2,502.8 781.5,502.3 781.8,503.6 782.1,506.7 782.3,507.8 782.6,507.6 782.9,507.1 783.2,507.9 783.5,508.2 783.7,506.8 784.0,506.1 784.3,504.2 784.6,502.4 784.9,503.3 785.1,502.7 785.4,503.1 785.7,499.8 786.0,503.5 786.3,499.9 786.5,499.8 786.8,500.7 787.1,498.3 787.4,498.3 787.7,496.5 787.9,496.5 788.2,495.8 788.5,497.8 788.8,498.6 789.1,498.1 789.3,499.7 789.6,500.3 789.9,498.8 790.2,497.9 790.5,497.5 790.7,497.0 791.0,498.8 791.3,498.1 791.6,497.1 791.9,496.9 792.1,498.1 792.4,497.6 792.7,498.5 793.0,498.7 793.3,500.5 793.5,501.2 793.8,498.7 794.1,499.5 794.4,501.0 794.7,500.5 794.9,502.1 795.2,502.3 795.5,503.0 795.8,502.7 796.1,503.3 796.3,504.0 796.6,502.3 796.9,502.6 797.2,501.6 797.5,503.8 797.7,502.5 798.0,501.6 798.3,500.5 798.6,498.8 798.9,497.5 799.1,498.3 799.4,496.6 799.7,497.8 800.0,496.1 800.3,494.8 800.5,493.5 800.8,492.7 801.1,492.0 801.4,492.9 801.7,493.7 801.9,489.4 802.2,489.4 802.5,489.6 802.8,487.7 803.1,487.1 803.3,486.8 803.6,484.3 803.9,486.6 804.2,486.4 804.5,486.1 804.7,485.9 805.0,485.8 805.3,487.9 805.6,485.9 805.9,485.8 806.1,483.9 806.4,484.2 806.7,484.7 807.0,485.8 807.3,486.1 807.5,487.0 807.8,489.5 808.1,491.5 808.4,492.1 808.7,490.2 808.9,490.4 809.2,486.8 809.5,489.2 809.8,488.5 810.1,488.3 810.3,488.9 810.6,486.9 810.9,487.5 811.2,487.3 811.5,489.1 811.7,489.3 812.0,491.0 812.3,493.0 812.6,489.9 812.9,488.2 813.1,487.3 813.4,487.2 813.7,489.7 814.0,485.6 814.3,481.5 814.5,481.2 814.8,479.9 815.1,481.7 815.4,483.5 815.7,483.2 815.9,484.0 816.2,482.9 816.5,486.0 816.8,486.2 817.1,489.4 817.3,491.3 817.6,491.4 817.9,494.0 818.2,497.3 818.5,501.4 818.7,498.8 819.0,498.8 819.3,500.9 819.6,497.8 819.9,496.3 820.1,494.6 820.4,491.3 820.7,493.8 821.0,494.0 821.3,494.2 821.5,495.3 821.8,496.1 822.1,492.4 822.4,495.0 822.7,494.5 822.9,495.7 823.2,495.7 823.5,496.3 823.8,500.2 824.1,500.8 824.3,501.4 824.6,502.4 824.9,504.1 825.2,504.0 825.5,500.1 825.7,501.0 826.0,502.1 826.3,503.9 826.6,505.4 826.9,502.2 827.1,505.4 827.4,503.5 827.7,502.4 828.0,499.3 828.3,497.2 828.5,498.6 828.8,495.6 829.1,493.7 829.4,494.1 829.7,495.0 829.9,490.0 830.2,490.0 830.5,489.9 830.8,492.4 831.1,494.0 831.3,490.3 831.6,489.4 831.9,489.5 832.2,489.6 832.5,487.5 832.7,488.8 833.0,487.0 833.3,483.4 833.6,484.3 833.9,487.2 834.1,489.3 834.4,485.4 834.7,484.9 835.0,487.6 835.3,483.5 835.5,489.1 835.8,492.7 836.1,488.5 836.4,493.6 836.7,494.7 836.9,497.9 837.2,497.3 837.5,496.5 837.8,496.9 838.1,498.6 838.3,498.4 838.6,499.8 838.9,499.3 839.2,503.3 839.5,504.8 839.7,507.3 840.0,505.0 840.3,503.9 840.6,502.5 840.9,505.2 841.1,505.6 841.4,505.7 841.7,510.1 842.0,512.7 842.3,508.8 842.5,504.3 842.8,504.3 843.1,499.6 843.4,503.7 843.7,501.0 843.9,501.9 844.2,498.8 844.5,499.7 844.8,502.8 845.1,505.8 845.3,507.5 845.6,514.9 845.9,516.9 846.2,518.3 846.5,516.7 846.7,516.1 847.0,518.0 847.3,514.9 847.6,514.7 847.9,512.8 848.1,515.0 848.4,513.1 848.7,513.6 849.0,512.8 849.3,510.1 849.5,510.6 849.8,510.6 850.1,506.8 850.4,507.8 850.7,512.0 850.9,506.9 851.2,506.2 851.5,502.6 851.8,503.8 852.1,502.3 852.3,503.5 852.6,502.3 852.9,499.8 853.2,502.2 853.5,500.5 853.7,498.0 854.0,498.2 854.3,496.1 854.6,496.9 854.9,495.9 855.1,494.4 855.4,495.0 855.7,491.6 856.0,493.4 856.3,488.9 856.5,492.4 856.8,491.0 857.1,489.2 857.4,487.4 857.7,488.2 857.9,486.9 858.2,485.9 858.5,487.9 858.8,486.8 859.1,487.1 859.3,488.6 859.6,490.5 859.9,489.6 860.2,490.1 860.5,492.1 860.7,495.5 861.0,499.3 861.3,498.4 861.6,497.9 861.9,497.5 862.1,498.0 862.4,499.3 862.7,497.0 863.0,496.2 863.3,497.3 863.5,495.2 863.8,495.9 864.1,497.3 864.4,499.3 864.7,501.0 864.9,501.2 865.2,505.5 865.5,503.9 865.8,504.9 866.1,508.0 866.3,509.3 866.6,509.2 866.9,510.6 867.2,510.7 867.5,508.2 867.7,507.7 868.0,506.2 868.3,507.8 868.6,506.2 868.9,507.3 869.1,507.8 869.4,511.1 869.7,509.0 870.0,509.0 870.3,506.6 870.5,506.5 870.8,505.9 871.1,504.3 871.4,506.0 871.7,502.2 871.9,504.0 872.2,507.4 872.5,502.7 872.8,502.5 873.1,500.4 873.3,502.2 873.6,500.4 873.9,503.7 874.2,503.0 874.5,500.1 874.7,499.6 875.0,498.6 875.3,499.9 875.6,501.8 875.9,500.1 876.1,498.2 876.4,498.0 876.7,499.3 877.0,495.7 877.3,499.1 877.5,499.8 877.8,495.5 878.1,499.6 878.4,496.7 878.7,498.1 878.9,501.0 879.2,497.8 879.5,496.5 879.8,497.4 880.1,497.9 880.3,499.8 880.6,500.1 880.9,500.5 881.2,501.0 881.5,502.4 881.7,502.9 882.0,505.9 882.3,507.3 882.6,507.2 882.9,512.3 883.1,509.0 883.4,511.3 883.7,509.9 884.0,511.3 884.3,512.3 884.5,512.6 884.8,513.2 885.1,509.4 885.4,513.6 885.7,510.8 885.9,507.6 886.2,505.2 886.5,509.9 886.8,510.0 887.1,507.1 887.3,506.9 887.6,507.6 887.9,505.7 888.2,503.9 888.5,503.7 888.7,504.8 889.0,503.6 889.3,501.1 889.6,502.9 889.9,499.5 890.1,499.2 890.4,501.0 890.7,499.9 891.0,499.0 891.3,498.0 891.5,498.1 891.8,497.3 892.1,495.4 892.4,496.5 892.7,494.6 892.9,494.7 893.2,496.7 893.5,496.9"/>
<polyline stroke="#FF8C00" points="91.3,760.6 91.6,760.5 91.9,760.3 92.1,759.3 92.4,758.7 92.7,758.0 93.0,758.1 93.3,757.5 93.5,757.5 93.8,755.4 94.1,756.8 94.4,755.8 94.7,755.8 94.9,755.4 95.2,755.1 95.5,755.9 95.8,756.6 96.1,756.0 96.3,755.9 96.6,756.8 96.9,755.8 97.2,754.9 97.5,756.5 97.7,757.1 98.0,757.0 98.3,758.8 98.6,760.6 98.9,761.4 99.1,762.2 99.4,764.5 99.7,763.8 100.0,761.2 100.3,758.5 100.5,757.4 100.8,756.0 101.1,753.3 101.4,751.8 101.7,752.4 101.9,751.6 102.2,750.8 102.5,751.7 102.8,751.9 103.1,752.9 103.3,751.0 103.6,751.0 103.9,750.6 104.2,748.9 104.5,749.4 104.7,749.5 105.0,747.7 105.3,748.6 105.6,747.8 105.9,746.8 106.1,745.7 106.4,745.3 106.7,742.5 107.0,742.7 107.3,742.3 107.5,739.4 107.8,739.8 108.1,738.8 108.4,738.9 108.7,737.6 108.9,737.5 109.2,737.7 109.5,736.5 109.8,737.4 110.1,736.9 110.3,737.2 110.6,736.2 110.9,737.2 111.2,737.0 111.5,736.1 111.7,736.4 112.0,737.0 112.3,737.6 112.6,734.5 112.9,735.6 113.1,735.5 113.4,734.8 113.7,733.5 114.0,735.1 114.3,733.1 114.5,734.0 114.8,734.8 115.1,732.3 115.4,732.5 115.7,731.4 115.9,732.4 116.2,733.8 116.5,734.5 116.8,730.9 117.1,730.5 117.3,731.3 117.6,732.2 117.9,731.1 118.2,729.4 118.5,729.5 118.7,729.0 119.0,728.4 119.3,727.4 119.6,727.9 119.9,727.7 120.1,727.1 120.4,726.4 120.7,725.0 121.0,724.9 121.3,726.3 121.5,725.7 121.8,724.5 122.1,726.9 122.4,727.1 122.7,728.9 122.9,727.7 123.2,727.0 123.5,725.9 123.8,728.3 124.1,730.5 124.3,728.3 124.6,727.8 124.9,729.0 125.2,728.2 125.5,728.6 125.7,728.8 126.0,729.4 126.3,730.4 126.6,729.8 126.9,730.5 127.1,729.5 127.4,729.8 127.7,727.7 128.0,727.6 128.3,729.7 128.5,729.2 128.8,730.1 129.1,730.4 129.4,731.3 129.7,731.2 129.9,731.3 130.2,730.4 130.5,729.6 130.8,729.6 131.1,730.1 131.3,729.9 131.6,730.6 131.9,731.5 132.2,732.4 132.5,732.4 132.7,731.1 133.0,732.6 133.3,733.7 133.6,735.1 133.9,735.4 134.1,734.5 134.4,734.4 134.7,737.2 135.0,737.2 135.3,738.4 135.5,739.4 135.8,737.2 136.1,737.2 136.4,737.0 136.7,736.7 136.9,736.3 137.2,735.6 137.5,735.0 137.8,733.0 138.1,733.2 138.3,732.5 138.6,732.8 138.9,732.1 139.2,732.5 139.5,732.6 139.7,731.9 140.0,731.4 140.3,730.7 140.6,729.7 140.9,729.1 141.1,728.1 141.4,728.1 141.7,727.3 142.0,727.1 142.3,724.8 142.5,725.6 142.8,723.9 143.1,722.8 143.4,722.5 143.7,721.6 143.9,722.1 144.2,721.4 144.5,720.5 144.8,720.4 145.1,722.2 145.3,721.6 145.6,720.1 145.9,720.6 146.2,719.2 146.5,721.7 146.7,719.4 147.0,720.3 147.3,720.6 147.6,718.7 147.9,719.4 148.1,719.9 148.4,719.4 148.7,718.7 149.0,718.8 149.3,717.8 149.5,717.3 149.8,716.5 150.1,716.6 150.4,714.9 150.7,715.6 150.9,714.3 151.2,713.1 151.5,713.7 151.8,715.4 152.1,715.6 152.3,714.6 152.6,715.5 152.9,715.0 153.2,715.4 153.5,716.0 153.7,714.1 154.0,716.1 154.3,715.8 154.6,716.3 154.9,715.7 155.1,715.4 155.4,715.8 155.7,717.5 156.0,718.9 156.3,717.8 156.5,718.4 156.8,717.3 157.1,715.4 157.4,716.6 157.7,717.3 157.9,716.6 158.2,717.1 158.5,717.5 158.8,716.2 159.1,715.2 159.3,715.9 159.6,716.4 159.9,716.5 160.2,717.9 160.5,719.2 160.7,717.7 161.0,718.4 161.3,718.9 161.6,719.0 161.9,719.5 162.1,718.4 162.4,719.2 162.7,720.8 163.0,720.3 163.3,718.9 163.5,719.7 163.8,720.6 164.1,720.3 164.4,719.4 164.7,721.1 164.9,719.3 165.2,720.5 165.5,720.7 165.8,719.9 166.1,722.1 166.3,722.2 166.6,721.1 166.9,722.6 167.2,722.3 167.5,721.1 167.7,722.0 168.0,723.4 168.3,724.5 168.6,724.7 168.9,724.7 169.1,724.6 169.4,723.7 169.7,724.5 170.0,723.5 170.3,723.1 170.5,722.9 170.8,721.1 171.1,720.6 171.4,722.2 171.7,721.5 171.9,720.4 172.2,720.3 172.5,719.3 172.8,719.4 173.1,718.3 173.3,718.6 173.6,716.9 173.9,719.4 174.2,718.6 174.5,717.5 174.7,718.5 175.0,718.9 175.3,719.7 175.6,718.9 175.9,720.2 176.1,723.8 176.4,720.6 176.7,721.2 177.0,720.9 177.3,721.4 177.5,719.1 177.8,717.7 178.1,717.8 178.4,716.5 178.7,716.8 178.9,713.8 179.2,713.8 179.5,716.5 179.8,714.0 180.1,713.0 180.3,713.5 180.6,713.7 180.9,714.7 181.2,714.4 181.5,713.4 181.7,714.1 182.0,716.6 182.3,716.2 182.6,712.3 182.9,713.5 183.1,713.2 183.4,714.6 183.7,714.3 184.0,715.9 184.3,715.3 184.5,714.9 184.8,713.9 185.1,713.2 185.4,713.1 185.7,713.8 185.9,713.1 186.2,711.9 186.5,712.8 186.8,711.9 187.1,711.2 187.3,710.1 187.6,709.7 187.9,709.3 188.2,707.0 188.5,709.5 188.7,709.3 189.0,708.0 189.3,708.2 189.6,707.2 189.9,706.3 190.1,702.8 190.4,703.1 190.7,703.5 191.0,704.1 191.3,704.0 191.5,703.2 191.8,700.6 192.1,698.6 192.4,700.4 192.7,700.5 192.9,701.2 193.2,700.4 193.5,700.4 193.8,698.6 194.1,699.8 194.3,699.2 194.6,699.7 194.9,699.9 195.2,699.3 195.5,699.4 195.7,699.0 196.0,699.5 196.3,699.6 196.6,699.1 196.9,699.2 197.1,701.7 197.4,701.2 197.7,702.3 198.0,702.5 198.3,701.9 198.5,701.7 198.8,701.7 199.1,701.3 199.4,701.1 199.7,698.8 199.9,698.2 200.2,698.0 200.5,699.1 200.8,695.3 201.1,696.2 201.3,695.1 201.6,695.2 201.9,693.8 202.2,693.6 202.5,694.0 202.7,692.5 203.0,691.5 203.3,690.6 203.6,688.6 203.9,688.6 204.1,687.3 204.4,685.8 204.7,685.4 205.0,684.5 205.3,684.6 205.5,685.0 205.8,685.5 206.1,688.3 206.4,689.5 206.7,690.9 206.9,691.5 207.2,691.7 207.5,692.2 207.8,693.3 208.1,695.4 208.3,695.6 208.6,694.5 208.9,695.9 209.2,695.4 209.5,697.1 209.7,696.8 210.0,697.0 210.3,698.7 210.6,699.5 210.9,698.7 211.1,700.3 211.4,701.3 211.7,697.6 212.0,698.8 212.3,696.2 212.5,694.9 212.8,694.1 213.1,692.1 213.4,693.3 213.7,692.3 213.9,690.2 214.2,689.3 214.5,687.2 214.8,687.0 215.1,688.4 215.3,686.4 215.6,686.9 215.9,687.6 216.2,688.7 216.5,689.4 216.7,687.9 217.0,687.2 217.3,688.0 217.6,687.5 217.9,687.4 218.1,688.7 218.4,689.7 218.7,688.8 219.0,688.2 219.3,688.8 219.5,686.9 219.8,688.1 220.1,687.6 220.4,690.8 220.7,690.5 220.9,690.1 221.2,690.0 221.5,688.1 221.8,690.8 222.1,692.9 222.3,691.7 222.6,692.9 222.9,693.7 223.2,692.2 223.5,694.2 223.7,695.7 224.0,695.0 224.3,693.9 224.6,693.9 224.9,691.4 225.1,691.7 225.4,692.3 225.7,690.0 226.0,690.9 226.3,689.5 226.5,687.1 226.8,687.8 227.1,686.8 227.4,687.3 227.7,685.9 227.9,687.7 228.2,686.7 228.5,687.5 228.8,686.9 229.1,687.0 229.3,688.6 229.6,688.2 229.9,687.6 230.2,687.2 230.5,689.8 230.7,690.7 231.0,690.5 231.3,691.3 231.6,690.9 231.9,691.2 232.1,691.7 232.4,692.2 232.7,691.9 233.0,690.4 233.3,690.8 233.5,690.6 233.8,689.6 234.1,689.6 234.4,687.9 234.7,687.1 234.9,686.9 235.2,686.0 235.5,686.0 235.8,683.7 236.1,685.0 236.3,682.9 236.6,682.4 236.9,680.9 237.2,682.1 237.5,683.0 237.7,682.9 238.0,682.5 238.3,679.9 238.6,679.5 238.9,679.5 239.1,678.9 239.4,680.4 239.7,679.9 240.0,679.3 240.3,679.4 240.5,677.9 240.8,677.3 241.1,676.9 241.4,678.3 241.7,679.0 241.9,679.7 242.2,680.6 242.5,678.9 242.8,679.3 243.1,680.4 243.3,679.6 243.6,680.4 243.9,682.3 244.2,683.3 244.5,683.9 244.7,683.4 245.0,683.2 245.3,683.6 245.6,682.0 245.9,681.8 246.1,682.3 246.4,680.5 246.7,679.3 247.0,679.0 247.3,679.2 247.5,678.7 247.8,677.9 248.1,677.8 248.4,675.6 248.7,675.4 248.9,676.2 249.2,675.3 249.5,674.4 249.8,674.1 250.1,674.1 250.3,674.7 250.6,673.9 250.9,674.7 251.2,676.2 251.5,674.9 251.7,675.6 252.0,675.5 252.3,674.7 252.6,675.6 252.9,675.7 253.1,677.9 253.4,677.3 253.7,679.9 254.0,680.5 254.3,678.8 254.5,681.2 254.8,683.2 255.1,680.9 255.4,681.4 255.7,678.6 255.9,679.2 256.2,677.2 256.5,678.2 256.8,676.0 257.1,674.1 257.3,675.9 257.6,678.0 257.9,675.8 258.2,676.4 258.5,675.9 258.7,675.3 259.0,675.9 259.3,677.1 259.6,674.7 259.9,675.6 260.1,675.6 260.4,673.9 260.7,676.1 261.0,677.6 261.3,675.8 261.5,678.0 261.8,677.6 262.1,677.6 262.4,679.5 262.7,679.4 262.9,679.7 263.2,680.9 263.5,680.6 263.8,679.8 264.1,677.1 264.3,675.7 264.6,677.4 264.9,675.8 265.2,676.0 265.5,674.6 265.7,674.6 266.0,673.3 266.3,675.3 266.6,673.2 266.9,673.3 267.1,674.3 267.4,676.6 267.7,675.6 268.0,677.2 268.3,678.2 268.5,678.7 268.8,678.4 269.1,677.2 269.4,677.1 269.7,676.2 269.9,676.4 270.2,675.6 270.5,674.6 270.8,674.6 271.1,674.9 271.3,676.6 271.6,674.5 271.9,674.3 272.2,675.2 272.5,672.1 272.7,671.1 273.0,671.2 273.3,672.0 273.6,674.6 273.9,673.4 274.1,673.6 274.4,672.2 274.7,669.2 275.0,668.0 275.3,670.4 275.5,670.1 275.8,668.4 276.1,669.7 276.4,667.4 276.7,668.8 276.9,669.2 277.2,667.0 277.5,665.6 277.8,666.7 278.1,664.9 278.3,665.8 278.6,663.9 278.9,664.8 279.2,664.5 279.5,663.8 279.7,663.0 280.0,663.7 280.3,661.9 280.6,662.6 280.9,662.7 281.1,663.7 281.4,662.1 281.7,664.2 282.0,663.0 282.3,661.7 282.5,663.5 282.8,664.3 283.1,662.7 283.4,661.4 283.7,661.8 283.9,661.1 284.2,661.2 284.5,662.8 284.8,662.3 285.1,661.7 285.3,661.6 285.6,661.1 285.9,661.7 286.2,661.9 286.5,660.7 286.7,660.6 287.0,662.7 287.3,661.4 287.6,660.3 287.9,662.0 288.1,660.9 288.4,660.0 288.7,661.7 289.0,661.1 289.3,661.7 289.5,663.0 289.8,663.4 290.1,663.3 290.4,663.9 290.7,664.4 290.9,666.6 291.2,664.9 291.5,663.8 291.8,665.4 292.1,663.0 292.3,663.5 292.6,663.0 292.9,661.0 293.2,658.5 293.5,658.9 293.7,658.7 294.0,658.4 294.3,657.0 294.6,657.0 294.9,656.7 295.1,653.8 295.4,654.5 295.7,653.6 296.0,652.5 296.3,652.3 296.5,654.2 296.8,653.9 297.1,651.1 297.4,651.8 297.7,651.8 297.9,651.6 298.2,651.1 298.5,650.0 298.8,651.7 299.1,650.5 299.3,650.5 299.6,650.2 299.9,649.9 300.2,651.4 300.5,652.0 300.7,651.5 301.0,651.3 301.3,652.0 301.6,654.1 301.9,655.2 302.1,656.6 302.4,657.5 302.7,658.8 303.0,660.6 303.3,660.2 303.5,664.2 303.8,664.3 304.1,665.4 304.4,666.6 304.7,664.6 304.9,662.7 305.2,660.5 305.5,657.8 305.8,657.5 306.1,657.3 306.3,654.3 306.6,654.3 306.9,651.0 307.2,649.2 307.5,648.7 307.7,647.7 308.0,648.0 308.3,646.5 308.6,645.5 308.9,644.2 309.1,644.1 309.4,644.0 309.7,643.4 310.0,644.6 310.3,643.9 310.5,642.2 310.8,645.6 311.1,643.4 311.4,642.1 311.7,643.7 311.9,644.0 312.2,641.8 312.5,640.5 312.8,640.3 313.1,642.1 313.3,641.2 313.6,640.2 313.9,640.4 314.2,641.4 314.5,639.6 314.7,641.2 315.0,641.8 315.3,646.3 315.6,648.4 315.9,649.3 316.1,646.8 316.4,645.4 316.7,641.3 317.0,640.9 317.3,638.2 317.5,636.9 317.8,637.2 318.1,637.5 318.4,638.4 318.7,638.7 318.9,638.3 319.2,636.9 319.5,637.8 319.8,637.3 320.1,638.2 320.3,636.5 320.6,634.0 320.9,635.2 321.2,637.7 321.5,636.2 321.7,634.3 322.0,634.0 322.3,632.9 322.6,631.8 322.9,629.9 323.1,629.1 323.4,628.2 323.7,626.5 324.0,624.8 324.3,625.0 324.5,626.3 324.8,626.7 325.1,626.9 325.4,627.1 325.7,629.3 325.9,627.3 326.2,626.8 326.5,627.1 326.8,624.9 327.1,623.9 327.3,623.9 327.6,624.0 327.9,622.3 328.2,621.3 328.5,620.3 328.7,618.3 329.0,619.3 329.3,617.9 329.6,615.6 329.9,615.8 330.1,614.0 330.4,613.7 330.7,614.2 331.0,613.1 331.3,614.2 331.5,611.8 331.8,612.2 332.1,612.2 332.4,612.7 332.7,611.9 332.9,610.7 333.2,609.7 333.5,608.8 333.8,609.3 334.1,608.0 334.3,609.3 334.6,609.6 334.9,610.5 335.2,610.7 335.5,613.5 335.7,612.2 336.0,612.0 336.3,611.5 336.6,611.1 336.9,610.4 337.1,609.7 337.4,609.5 337.7,606.7 338.0,606.7 338.3,605.1 338.5,605.5 338.8,603.8 339.1,603.0 339.4,603.8 339.7,605.7 339.9,605.8 340.2,605.7 340.5,606.9 340.8,605.3 341.1,603.9 341.3,605.1 341.6,605.9 341.9,608.5 342.2,610.9 342.5,609.1 342.7,612.7 343.0,613.7 343.3,614.0 343.6,614.3 343.9,617.0 344.1,616.1 344.4,614.2 344.7,613.6 345.0,611.5 345.3,611.9 345.5,611.0 345.8,610.6 346.1,610.0 346.4,607.9 346.7,608.9 346.9,606.6 347.2,608.3 347.5,607.2 347.8,609.3 348.1,609.4 348.3,610.8 348.6,611.2 348.9,610.4 349.2,611.7 349.5,613.8 349.7,615.6 350.0,614.3 350.3,612.8 350.6,613.1 350.9,613.6 351.1,613.2 351.4,612.6 351.7,613.7 352.0,614.0 352.3,613.6 352.5,611.7 352.8,611.8 353.1,612.2 353.4,611.6 353.7,613.9 353.9,614.3 354.2,614.3 354.5,616.5 354.8,617.0 355.1,617.6 355.3,617.6 355.6,616.0 355.9,612.7 356.2,611.5 356.5,611.6 356.7,609.0 357.0,608.1 357.3,607.3 357.6,607.2 357.9,608.3 358.1,609.0 358.4,608.7 358.7,610.4 359.0,611.2 359.3,611.3 359.5,613.7 359.8,612.7 360.1,610.3 360.4,611.1 360.7,609.2 360.9,608.9 361.2,606.9 361.5,608.5 361.8,608.4 362.1,608.8 362.3,608.2 362.6,613.3 362.9,612.8 363.2,613.5 363.5,615.3 363.7,620.8 364.0,628.9 364.3,634.3 364.6,636.9 364.9,634.3 365.1,633.2 365.4,631.0 365.7,626.8 366.0,624.0 366.3,624.8 366.5,627.5 366.8,628.1 367.1,628.4 367.4,625.5 367.7,623.7 367.9,625.9 368.2,627.2 368.5,627.4 368.8,628.8 369.1,629.3 369.3,628.6 369.6,629.3 369.9,631.4 370.2,632.5 370.5,633.2 370.7,637.0 371.0,635.5 371.3,635.9 371.6,635.1 371.9,634.8 372.1,634.5 372.4,633.4 372.7,631.1 373.0,629.9 373.3,628.1 373.5,623.9 373.8,620.0 374.1,625.4 374.4,624.6 374.7,622.6 374.9,619.0 375.2,617.7 375.5,620.1 375.8,614.8 376.1,615.5 376.3,616.7 376.6,615.6 376.9,615.9 377.2,614.6 377.5,617.3 377.7,613.4 378.0,611.4 378.3,612.6 378.6,614.3 378.9,612.7 379.1,613.4 379.4,611.3 379.7,609.4 380.0,611.9 380.3,612.7 380.5,612.6 380.8,609.8 381.1,607.6 381.4,606.5 381.7,607.1 381.9,608.1 382.2,608.1 382.5,605.4 382.8,606.8 383.1,607.1 383.3,607.3 383.6,607.3 383.9,607.1 384.2,608.2 384.5,609.1 384.7,611.1 385.0,612.0 385.3,615.0 385.6,616.7 385.9,616.0 386.1,620.5 386.4,621.2 386.7,622.0 387.0,620.3 387.3,619.3 387.5,618.9 387.8,618.0 388.1,616.6 388.4,613.9 388.7,617.2 388.9,613.4 389.2,613.3 389.5,616.4 389.8,618.2 390.1,620.1 390.3,622.0 390.6,624.4 390.9,625.0 391.2,629.7 391.5,627.2 391.7,629.0 392.0,629.9 392.3,629.7 392.6,630.5 392.9,632.1 393.1,629.8 393.4,628.8 393.7,630.2 394.0,630.4 394.3,632.2 394.5,631.5 394.8,630.0 395.1,629.6 395.4,632.1 395.7,634.0 395.9,634.6 396.2,638.0 396.5,640.5 396.8,642.7 397.1,644.7 397.3,649.7 397.6,648.5 397.9,646.9 398.2,643.3 398.5,640.4 398.7,639.2 399.0,638.4 399.3,636.2 399.6,634.5 399.9,634.4 400.1,632.7 400.4,629.6 400.7,628.3 401.0,626.7 401.3,626.3 401.5,623.6 401.8,623.1 402.1,624.6 402.4,624.2 402.7,622.9 402.9,622.9 403.2,623.8 403.5,624.6 403.8,625.4 404.1,624.4 404.3,622.7 404.6,625.5 404.9,625.1 405.2,625.1 405.5,625.0 405.7,623.4 406.0,624.0 406.3,625.2 406.6,626.7 406.9,626.3 407.1,622.6 407.4,624.9 407.7,626.6 408.0,628.5 408.3,628.7 408.5,631.1 408.8,629.8 409.1,628.5 409.4,626.9 409.7,623.1 409.9,623.6 410.2,622.8 410.5,620.6 410.8,620.5 411.1,620.0 411.3,619.9 411.6,620.9 411.9,621.7 412.2,623.1 412.5,623.4 412.7,625.2 413.0,623.8 413.3,625.6 413.6,624.4 413.9,624.7 414.1,625.5 414.4,624.9 414.7,624.2 415.0,623.8 415.3,624.8 415.5,622.1 415.8,622.8 416.1,620.3 416.4,620.1 416.7,620.3 416.9,619.0 417.2,619.2 417.5,619.5 417.8,617.3 418.1,617.3 418.3,616.8 418.6,615.6 418.9,617.2 419.2,617.5 419.5,619.8 419.7,618.8 420.0,621.2 420.3,620.2 420.6,622.4 420.9,622.2 421.1,622.3 421.4,622.9 421.7,623.5 422.0,624.5 422.3,625.4 422.5,624.0 422.8,623.0 423.1,621.5 423.4,623.5 423.7,625.5 423.9,626.1 424.2,625.7 424.5,624.2 424.8,622.7 425.1,621.9 425.3,621.5 425.6,618.7 425.9,619.4 426.2,616.9 426.5,616.6 426.7,615.4 427.0,614.5 427.3,613.3 427.6,612.4 427.9,612.5 428.1,611.3 428.4,613.8 428.7,611.6 429.0,610.4 429.3,610.4 429.5,610.1 429.8,608.8 430.1,610.5 430.4,611.7 430.7,610.6 430.9,611.7 431.2,611.1 431.5,612.1 431.8,612.9 432.1,613.1 432.3,613.0 432.6,611.8 432.9,612.8 433.2,611.7 433.5,612.0 433.7,612.3 434.0,611.4 434.3,610.0 434.6,611.2 434.9,609.9 435.1,610.0 435.4,610.0 435.7,612.0 436.0,611.9 436.3,610.1 436.5,612.4 436.8,614.6 437.1,615.3 437.4,613.5 437.7,613.6 437.9,614.2 438.2,615.0 438.5,614.6 438.8,613.6 439.1,615.1 439.3,615.7 439.6,614.2 439.9,614.2 440.2,614.7 440.5,614.4 440.7,614.7 441.0,614.9 441.3,614.5 441.6,613.6 441.9,612.0 442.1,613.1 442.4,614.1 442.7,614.8 443.0,613.0 443.3,612.2 443.5,613.2 443.8,613.4 444.1,612.2 444.4,612.0 444.7,610.4 444.9,610.9 445.2,609.7 445.5,609.7 445.8,609.6 446.1,609.0 446.3,607.1 446.6,607.5 446.9,608.6 447.2,608.4 447.5,608.1 447.7,609.7 448.0,611.0 448.3,612.2 448.6,611.6 448.9,612.7 449.1,613.3 449.4,613.6 449.7,613.6 450.0,614.0 450.3,612.1 450.5,613.3 450.8,610.6 451.1,608.5 451.4,606.7 451.7,607.1 451.9,603.7 452.2,602.3 452.5,601.6 452.8,601.8 453.1,601.8 453.3,602.8 453.6,600.7 453.9,601.1 454.2,602.7 454.5,601.1 454.7,600.7 455.0,599.8 455.3,597.3 455.6,598.1 455.9,598.9 456.1,597.1 456.4,594.6 456.7,595.1 457.0,594.5 457.3,594.6 457.5,593.9 457.8,592.0 458.1,592.1 458.4,590.4 458.7,592.6 458.9,592.6 459.2,593.6 459.5,594.0 459.8,593.0 460.1,592.9 460.3,592.3 460.6,591.1 460.9,592.6 461.2,593.2 461.5,592.3 461.7,593.6 462.0,593.5 462.3,593.7 462.6,592.6 462.9,591.3 463.1,593.2 463.4,593.6 463.7,593.1 464.0,592.9 464.3,593.1 464.5,593.5 464.8,593.5 465.1,592.2 465.4,594.6 465.7,593.5 465.9,594.3 466.2,594.8 466.5,594.6 466.8,592.3 467.1,593.7 467.3,593.2 467.6,592.6 467.9,592.4 468.2,589.9 468.5,586.4 468.7,587.9 469.0,588.9 469.3,588.8 469.6,587.0 469.9,586.6 470.1,586.5 470.4,584.3 470.7,584.3 471.0,584.1 471.3,585.9 471.5,584.2 471.8,585.4 472.1,584.4 472.4,582.6 472.7,585.8 472.9,584.1 473.2,585.1 473.5,586.5 473.8,585.1 474.1,584.0 474.3,585.9 474.6,585.8 474.9,584.6 475.2,584.9 475.5,586.0 475.7,588.0 476.0,587.9 476.3,589.2 476.6,590.9 476.9,591.3 477.1,590.9 477.4,590.2 477.7,586.9 478.0,588.1 478.3,587.3 478.5,586.2 478.8,584.6 479.1,583.2 479.4,583.2 479.7,584.5 479.9,584.0 480.2,584.2 480.5,584.6 480.8,586.1 481.1,585.8 481.3,586.0 481.6,587.5 481.9,586.6 482.2,587.3 482.5,585.7 482.7,586.3 483.0,586.2 483.3,586.1 483.6,585.3 483.9,584.3 484.1,584.6 484.4,584.3 484.7,585.5 485.0,585.7 485.3,583.6 485.5,584.5 485.8,583.6 486.1,584.3 486.4,584.3 486.7,583.8 486.9,586.3 487.2,587.1 487.5,586.2 487.8,585.6 488.1,586.9 488.3,586.4 488.6,586.9 488.9,587.9 489.2,588.9 489.5,587.4 489.7,588.4 490.0,588.5 490.3,586.9 490.6,585.0 490.9,586.6 491.1,586.9 491.4,588.4 491.7,588.0 492.0,587.1 492.3,587.5 492.5,585.0 492.8,585.1 493.1,584.6 493.4,586.2 493.7,585.5 493.9,582.2 494.2,585.9 494.5,585.6 494.8,587.5 495.1,587.5 495.3,588.7 495.6,590.0 495.9,590.0 496.2,588.7 496.5,590.4 496.7,590.0 497.0,589.4 497.3,589.8 497.6,588.7 497.9,590.6 498.1,589.6 498.4,589.3 498.7,589.3 499.0,588.3 499.3,588.0 499.5,589.3 499.8,590.1 500.1,591.5 500.4,591.3 500.7,590.0 500.9,591.2 501.2,592.1 501.5,592.8 501.8,592.4 502.1,590.9 502.3,592.6 502.6,591.5 502.9,592.4 503.2,590.8 503.5,592.5 503.7,591.6 504.0,593.2 504.3,594.4 504.6,594.4 504.9,592.6 505.1,592.4 505.4,592.7 505.7,594.6 506.0,595.2 506.3,595.5 506.5,596.0 506.8,596.7 507.1,597.3 507.4,598.8 507.7,597.1 507.9,596.3 508.2,593.8 508.5,593.1 508.8,593.1 509.1,592.3 509.3,593.0 509.6,593.7 509.9,592.2 510.2,591.3 510.5,590.7 510.7,590.8 511.0,589.8 511.3,590.1 511.6,589.8 511.9,589.4 512.1,589.4 512.4,588.4 512.7,587.8 513.0,588.8 513.3,587.2 513.5,587.4 513.8,586.6 514.1,585.7 514.4,585.3 514.7,584.7 514.9,585.1 515.2,584.5 515.5,584.4 515.8,585.7 516.1,584.8 516.3,585.5 516.6,584.8 516.9,585.0 517.2,583.5 517.5,583.3 517.7,585.2 518.0,583.9 518.3,583.3 518.6,582.1 518.9,581.9 519.1,579.7 519.4,578.9 519.7,579.5 520.0,579.8 520.3,579.5 520.5,580.1 520.8,580.6 521.1,581.4 521.4,581.2 521.7,581.4 521.9,583.1 522.2,581.7 522.5,581.8 522.8,582.0 523.1,581.6 523.3,582.6 523.6,582.1 523.9,582.2 524.2,581.2 524.5,581.0 524.7,582.0 525.0,581.9 525.3,580.7 525.6,580.8 525.9,580.3 526.1,579.8 526.4,580.7 526.7,578.8 527.0,578.6 527.3,578.3 527.5,577.2 527.8,575.9 528.1,577.5 528.4,577.7 528.7,577.8 528.9,577.9 529.2,578.0 529.5,577.3 529.8,578.3 530.1,576.8 530.3,578.1 530.6,577.3 530.9,577.5 531.2,577.9 531.5,576.7 531.7,575.5 532.0,575.5 532.3,574.2 532.6,573.2 532.9,573.0 533.1,574.7 533.4,574.5 533.7,574.2 534.0,572.5 534.3,573.6 534.5,572.1 534.8,573.3 535.1,572.1 535.4,574.6 535.7,572.0 535.9,573.8 536.2,575.5 536.5,574.9 536.8,577.4 537.1,581.0 537.3,583.1 537.6,582.4 537.9,584.4 538.2,585.7 538.5,586.9 538.7,586.4 539.0,588.1 539.3,586.6 539.6,585.2 539.9,584.1 540.1,584.1 540.4,583.6 540.7,581.4 541.0,582.4 541.3,579.8 541.5,579.2 541.8,579.3 542.1,582.6 542.4,583.1 542.7,585.0 542.9,586.5 543.2,585.4 543.5,584.9 543.8,584.1 544.1,582.5 544.3,581.8 544.6,581.2 544.9,580.9 545.2,583.2 545.5,581.3 545.7,582.3 546.0,585.6 546.3,586.4 546.6,586.4 546.9,588.0 547.1,589.9 547.4,589.7 547.7,591.0 548.0,590.0 548.3,589.3 548.5,588.8 548.8,589.4 549.1,587.3 549.4,586.9 549.7,587.4 549.9,585.5 550.2,584.2 550.5,585.5 550.8,585.0 551.1,584.5 551.3,584.4 551.6,583.2 551.9,586.2 552.2,583.5 552.5,582.8 552.7,581.5 553.0,581.8 553.3,583.5 553.6,582.5 553.9,582.5 554.1,581.4 554.4,582.9 554.7,581.7 555.0,579.7 555.3,580.3 555.5,579.0 555.8,579.0 556.1,578.0 556.4,577.4 556.7,576.6 556.9,574.8 557.2,573.2 557.5,574.5 557.8,573.4 558.1,573.0 558.3,571.8 558.6,570.0 558.9,570.1 559.2,572.6 559.5,571.4 559.7,571.3 560.0,570.2 560.3,570.6 560.6,570.9 560.9,570.9 561.1,570.8 561.4,569.9 561.7,569.4 562.0,569.5 562.3,569.6 562.5,568.9 562.8,570.2 563.1,569.0 563.4,569.2 563.7,568.8 563.9,570.6 564.2,569.7 564.5,569.1 564.8,569.9 565.1,572.0 565.3,571.4 565.6,573.8 565.9,572.9 566.2,570.9 566.5,571.2 566.7,573.0 567.0,570.9 567.3,569.5 567.6,570.5 567.9,571.4 568.1,571.2 568.4,569.6 568.7,569.3 569.0,569.1 569.3,569.6 569.5,570.5 569.8,568.4 570.1,568.8 570.4,567.2 570.7,567.2 570.9,565.6 571.2,565.0 571.5,565.6 571.8,564.4 572.1,565.4 572.3,564.2 572.6,564.1 572.9,563.7 573.2,563.1 573.5,563.3 573.7,564.3 574.0,566.6 574.3,563.3 574.6,563.6 574.9,563.2 575.1,562.4 575.4,563.3 575.7,562.5 576.0,562.9 576.3,564.3 576.5,561.8 576.8,563.0 577.1,563.6 577.4,562.6 577.7,563.8 577.9,564.2 578.2,563.7 578.5,565.2 578.8,563.4 579.1,564.8 579.3,564.5 579.6,563.7 579.9,564.0 580.2,563.8 580.5,564.6 580.7,562.6 581.0,562.9 581.3,562.6 581.6,564.2 581.9,562.1 582.1,563.2 582.4,560.8 582.7,561.8 583.0,561.5 583.3,561.7 583.5,560.6 583.8,558.9 584.1,558.5 584.4,560.9 584.7,561.5 584.9,561.8 585.2,564.5 585.5,564.8 585.8,565.9 586.1,566.7 586.3,570.2 586.6,572.4 586.9,570.7 587.2,571.7 587.5,573.0 587.7,574.9 588.0,571.7 588.3,573.4 588.6,574.8 588.9,573.7 589.1,574.3 589.4,573.7 589.7,573.5 590.0,571.7 590.3,571.5 590.5,570.0 590.8,570.1 591.1,569.3 591.4,567.9 591.7,566.9 591.9,570.4 592.2,571.7 592.5,572.6 592.8,571.9 593.1,572.6 593.3,575.5 593.6,576.2 593.9,575.4 594.2,575.4 594.5,574.5 594.7,573.2 595.0,571.2 595.3,572.2 595.6,571.1 595.9,569.2 596.1,567.4 596.4,569.0 596.7,570.9 597.0,573.3 597.3,573.5 597.5,575.9 597.8,576.4 598.1,576.8 598.4,575.8 598.7,578.6 598.9,580.4 599.2,583.8 599.5,586.8 599.8,590.3 600.1,591.1 600.3,591.2 600.6,594.4 600.9,592.3 601.2,590.3 601.5,589.0 601.7,586.7 602.0,587.6 602.3,587.1 602.6,587.7 602.9,586.7 603.1,585.5 603.4,584.9 603.7,582.4 604.0,580.8 604.3,580.0 604.5,577.9 604.8,577.8 605.1,576.9 605.4,577.1 605.7,576.0 605.9,573.4 606.2,574.1 606.5,575.4 606.8,572.2 607.1,571.8 607.3,572.1 607.6,570.5 607.9,570.4 608.2,570.5 608.5,568.9 608.7,569.5 609.0,569.5 609.3,567.5 609.6,567.7 609.9,568.4 610.1,567.1 610.4,566.8 610.7,566.8 611.0,566.0 611.3,566.8 611.5,566.4 611.8,565.0 612.1,565.8 612.4,566.4 612.7,566.5 612.9,565.1 613.2,565.6 613.5,566.5 613.8,565.8 614.1,566.3 614.3,566.6 614.6,565.2 614.9,565.3 615.2,564.2 615.5,565.0 615.7,564.0 616.0,563.1 616.3,563.1 616.6,563.0 616.9,563.2 617.1,563.2 617.4,561.5 617.7,561.1 618.0,561.5 618.3,561.4 618.5,560.7 618.8,562.4 619.1,561.3 619.4,559.4 619.7,559.1 619.9,559.3 620.2,558.1 620.5,555.6 620.8,556.3 621.1,556.4 621.3,558.2 621.6,555.0 621.9,556.8 622.2,555.8 622.5,556.2 622.7,555.1 623.0,555.0 623.3,555.7 623.6,554.8 623.9,555.3 624.1,554.2 624.4,553.4 624.7,553.1 625.0,553.4 625.3,554.3 625.5,556.3 625.8,555.0 626.1,554.5 626.4,556.2 626.7,558.8 626.9,559.5 627.2,560.4 627.5,561.0 627.8,559.7 628.1,560.2 628.3,557.9 628.6,559.2 628.9,561.0 629.2,559.7 629.5,559.0 629.7,559.7 630.0,561.5 630.3,563.2 630.6,565.3 630.9,565.1 631.1,562.5 631.4,561.0 631.7,562.9 632.0,563.7 632.3,561.0 632.5,560.7 632.8,560.2 633.1,560.1 633.4,559.4 633.7,559.3 633.9,559.4 634.2,558.1 634.5,557.8 634.8,558.4 635.1,555.6 635.3,554.4 635.6,555.3 635.9,556.6 636.2,555.3 636.5,555.5 636.7,554.0 637.0,554.5 637.3,553.0 637.6,553.4 637.9,553.1 638.1,552.8 638.4,553.4 638.7,553.1 639.0,551.4 639.3,552.0 639.5,549.6 639.8,551.2 640.1,553.2 640.4,551.7 640.7,551.0 640.9,550.2 641.2,550.4 641.5,549.2 641.8,549.7 642.1,548.8 642.3,548.2 642.6,549.1 642.9,550.5 643.2,550.5 643.5,555.0 643.7,555.7 644.0,555.3 644.3,558.7 644.6,558.6 644.9,558.4 645.1,558.5 645.4,556.9 645.7,554.2 646.0,555.7 646.3,556.3 646.5,557.0 646.8,555.4 647.1,555.1 647.4,555.4 647.7,554.6 647.9,554.0 648.2,553.9 648.5,552.4 648.8,554.0 649.1,551.9 649.3,551.7 649.6,551.0 649.9,550.0 650.2,550.6 650.5,550.9 650.7,551.1 651.0,550.0 651.3,548.3 651.6,548.7 651.9,546.3 652.1,546.5 652.4,546.7 652.7,546.5 653.0,545.5 653.3,545.1 653.5,548.2 653.8,547.5 654.1,546.5 654.4,546.8 654.7,548.4 654.9,550.3 655.2,550.2 655.5,551.5 655.8,551.4 656.1,551.3 656.3,551.3 656.6,549.7 656.9,549.5 657.2,548.4 657.5,547.5 657.7,548.1 658.0,546.6 658.3,546.6 658.6,545.4 658.9,545.4 659.1,544.6 659.4,545.5 659.7,544.6 660.0,543.9 660.3,544.9 660.5,540.6 660.8,540.5 661.1,538.6 661.4,540.1 661.7,540.8 661.9,541.2 662.2,541.0 662.5,539.7 662.8,541.7 663.1,540.9 663.3,540.1 663.6,538.9 663.9,539.9 664.2,539.3 664.5,539.1 664.7,539.5 665.0,539.6 665.3,538.6 665.6,540.1 665.9,538.5 666.1,537.7 666.4,538.7 666.7,538.8 667.0,538.6 667.3,537.8 667.5,537.7 667.8,536.9 668.1,535.3 668.4,536.8 668.7,535.4 668.9,535.4 669.2,536.1 669.5,535.4 669.8,537.5 670.1,534.1 670.3,533.3 670.6,533.6 670.9,534.6 671.2,533.2 671.5,531.6 671.7,533.3 672.0,531.9 672.3,532.0 672.6,532.9 672.9,531.6 673.1,531.3 673.4,532.0 673.7,531.4 674.0,531.6 674.3,530.4 674.5,530.6 674.8,529.7 675.1,528.8 675.4,531.4 675.7,531.0 675.9,531.2 676.2,529.4 676.5,529.5 676.8,529.2 677.1,527.9 677.3,529.1 677.6,528.2 677.9,528.3 678.2,527.0 678.5,528.4 678.7,528.4 679.0,527.7 679.3,525.9 679.6,525.3 679.9,526.4 680.1,525.1 680.4,524.8 680.7,524.3 681.0,522.3 681.3,524.4 681.5,520.5 681.8,521.6 682.1,521.2 682.4,523.0 682.7,529.0 682.9,534.0 683.2,537.6 683.5,540.0 683.8,545.5 684.1,551.1 684.3,553.4 684.6,559.0 684.9,561.5 685.2,564.3 685.5,568.5 685.7,568.5 686.0,570.8 686.3,575.6 686.6,579.3 686.9,584.5 687.1,587.8 687.4,589.4 687.7,592.1 688.0,594.3 688.3,597.0 688.5,596.9 688.8,596.4 689.1,591.9 689.4,588.8 689.7,586.8 689.9,583.1 690.2,580.5 690.5,574.3 690.8,574.8 691.1,572.0 691.3,570.1 691.6,568.1 691.9,563.4 692.2,568.8 692.5,566.1 692.7,564.6 693.0,560.0 693.3,562.1 693.6,561.9 693.9,559.9 694.1,559.7 694.4,560.9 694.7,557.8 695.0,555.2 695.3,557.7 695.5,556.2 695.8,555.1 696.1,559.2 696.4,556.8 696.7,555.4 696.9,555.7 697.2,554.6 697.5,555.3 697.8,555.4 698.1,554.0 698.3,554.3 698.6,555.4 698.9,555.9 699.2,556.4 699.5,556.4 699.7,554.7 700.0,553.9 700.3,551.5 700.6,550.2 700.9,551.4 701.1,545.9 701.4,547.5 701.7,552.4 702.0,544.6 702.3,547.2 702.5,541.8 702.8,542.9 703.1,544.9 703.4,546.5 703.7,543.5 703.9,542.3 704.2,542.1 704.5,546.3 704.8,546.4 705.1,547.7 705.3,549.1 705.6,550.3 705.9,550.8 706.2,550.0 706.5,546.7 706.7,550.5 707.0,544.6 707.3,549.1 707.6,547.5 707.9,547.1 708.1,546.0 708.4,545.6 708.7,545.6 709.0,544.8 709.3,542.8 709.5,544.9 709.8,543.0 710.1,545.0 710.4,543.3 710.7,541.7 710.9,542.9 711.2,543.9 711.5,541.3 711.8,541.2 712.1,544.1 712.3,542.3 712.6,542.5 712.9,544.9 713.2,544.2 713.5,542.7 713.7,544.1 714.0,547.6 714.3,548.3 714.6,547.9 714.9,546.8 715.1,543.4 715.4,544.5 715.7,545.1 716.0,541.9 716.3,542.7 716.5,540.4 716.8,540.3 717.1,540.3 717.4,537.2 717.7,540.3 717.9,537.5 718.2,537.4 718.5,536.5 718.8,537.3 719.1,537.3 719.3,536.4 719.6,537.8 719.9,537.2 720.2,536.6 720.5,533.2 720.7,536.4 721.0,537.9 721.3,538.1 721.6,538.7 721.9,541.3 722.1,543.1 722.4,545.3 722.7,545.3 723.0,543.0 723.3,543.9 723.5,542.2 723.8,544.9 724.1,545.6 724.4,543.5 724.7,543.0 724.9,542.1 725.2,540.7 725.5,542.4 725.8,544.9 726.1,542.1 726.3,540.9 726.6,538.7 726.9,536.7 727.2,538.9 727.5,535.7 727.7,535.1 728.0,533.7 728.3,535.4 728.6,535.8 728.9,537.3 729.1,536.1 729.4,537.8 729.7,540.9 730.0,539.5 730.3,540.1 730.5,543.5 730.8,544.1 731.1,545.7 731.4,541.1 731.7,541.0 731.9,538.1 732.2,535.8 732.5,536.1 732.8,536.0 733.1,531.7 733.3,529.5 733.6,528.2 733.9,528.4 734.2,527.1 734.5,530.8 734.7,530.0 735.0,528.6 735.3,527.8 735.6,530.7 735.9,531.6 736.1,528.7 736.4,528.5 736.7,529.4 737.0,526.9 737.3,526.6 737.5,528.6 737.8,527.0 738.1,526.6 738.4,525.6 738.7,525.9 738.9,527.6 739.2,526.7 739.5,525.9 739.8,526.5 740.1,529.2 740.3,528.5 740.6,527.6 740.9,528.1 741.2,528.6 741.5,528.5 741.7,526.6 742.0,528.1 742.3,527.4 742.6,527.8 742.9,525.2 743.1,526.4 743.4,524.8 743.7,522.5 744.0,524.5 744.3,522.8 744.5,522.7 744.8,521.7 745.1,522.2 745.4,521.9 745.7,521.4 745.9,520.9 746.2,518.8 746.5,518.2 746.8,520.2 747.1,520.0 747.3,521.6 747.6,522.2 747.9,521.0 748.2,521.2 748.5,521.4 748.7,522.0 749.0,523.1 749.3,523.4 749.6,523.6 749.9,520.7 750.1,519.5 750.4,520.7 750.7,519.9 751.0,518.3 751.3,514.5 751.5,514.0 751.8,514.4 752.1,513.2 752.4,515.7 752.7,515.1 752.9,515.3 753.2,514.2 753.5,514.1 753.8,514.7 754.1,515.2 754.3,516.1 754.6,517.3 754.9,517.8 755.2,519.0 755.5,516.9 755.7,516.6 756.0,515.7 756.3,516.0 756.6,513.4 756.9,512.3 757.1,509.9 757.4,510.0 757.7,509.9 758.0,508.6 758.3,508.1 758.5,508.1 758.8,508.6 759.1,506.7 759.4,508.0 759.7,506.9 759.9,508.6 760.2,508.6 760.5,506.4 760.8,505.2 761.1,507.7 761.3,506.5 761.6,505.8 761.9,504.3 762.2,503.9 762.5,504.5 762.7,504.3 763.0,502.5 763.3,503.8 763.6,503.0 763.9,501.5 764.1,503.0 764.4,502.4 764.7,503.2 765.0,502.1 765.3,502.7 765.5,500.9 765.8,502.4 766.1,500.9 766.4,502.2 766.7,499.9 766.9,501.7 767.2,503.1 767.5,503.4 767.8,504.7 768.1,503.0 768.3,505.5 768.6,506.6 768.9,504.4 769.2,504.3 769.5,504.8 769.7,505.8 770.0,506.6 770.3,503.8 770.6,505.6 770.9,505.1 771.1,503.8 771.4,505.1 771.7,503.9 772.0,504.8 772.3,504.1 772.5,502.7 772.8,503.5 773.1,503.1 773.4,501.3 773.7,499.2 773.9,499.3 774.2,500.2 774.5,499.4 774.8,500.9 775.1,499.5 775.3,498.7 775.6,498.5 775.9,496.8 776.2,496.8 776.5,496.1 776.7,493.8 777.0,493.4 777.3,495.7 777.6,495.0 777.9,494.9 778.1,493.2 778.4,493.3 778.7,494.6 779.0,494.1 779.3,493.1 779.5,494.6 779.8,493.3 780.1,492.3 780.4,493.3 780.7,490.4 780.9,491.6 781.2,490.0 781.5,489.6 781.8,490.9 782.1,493.9 782.3,494.9 782.6,494.7 782.9,494.1 783.2,494.8 783.5,495.0 783.7,493.7 784.0,492.9 784.3,491.1 784.6,489.4 784.9,490.2 785.1,489.5 785.4,489.8 785.7,486.7 786.0,489.9 786.3,486.6 786.5,486.5 786.8,487.2 787.1,485.0 787.4,485.1 787.7,483.5 787.9,483.5 788.2,482.9 788.5,484.7 788.8,485.5 789.1,485.0 789.3,486.5 789.6,487.0 789.9,485.7 790.2,484.9 790.5,484.5 790.7,484.1 791.0,485.8 791.3,485.1 791.6,484.3 791.9,484.1 792.1,485.1 792.4,484.7 792.7,485.5 793.0,485.6 793.3,487.2 793.5,487.8 793.8,485.5 794.1,486.2 794.4,487.6 794.7,487.2 794.9,488.6 795.2,488.9 795.5,489.5 795.8,489.3 796.1,489.9 796.3,490.6 796.6,489.0 796.9,489.3 797.2,488.4 797.5,490.4 797.7,489.1 798.0,488.3 798.3,487.3 798.6,485.7 798.9,484.4 799.1,485.1 799.4,483.6 799.7,484.6 800.0,483.0 800.3,481.8 800.5,480.6 800.8,479.8 801.1,479.2 801.4,480.0 801.7,480.6 801.9,476.7 802.2,476.6 802.5,476.8 802.8,474.9 803.1,474.3 803.3,474.0 803.6,471.6 803.9,473.7 804.2,473.4 804.5,473.0 804.7,472.8 805.0,472.6 805.3,474.4 805.6,472.6 805.9,472.3 806.1,470.6 806.4,470.7 806.7,471.2 807.0,472.2 807.3,472.5 807.5,473.3 807.8,475.6 808.1,477.4 808.4,477.9 808.7,476.3 808.9,476.4 809.2,473.2 809.5,475.4 809.8,474.8 810.1,474.6 810.3,475.2 810.6,473.4 810.9,474.0 811.2,473.6 811.5,475.1 811.7,475.1 812.0,476.5 812.3,478.1 812.6,475.2 812.9,473.6 813.1,472.7 813.4,472.5 813.7,474.8 814.0,470.9 814.3,467.1 814.5,466.8 814.8,465.6 815.1,467.2 815.4,468.9 815.7,468.7 815.9,469.5 816.2,468.6 816.5,471.4 816.8,471.6 817.1,474.6 817.3,476.3 817.6,476.4 817.9,478.8 818.2,481.8 818.5,485.4 818.7,483.2 819.0,483.3 819.3,485.4 819.6,482.8 819.9,481.6 820.1,480.2 820.4,477.4 820.7,479.8 821.0,480.2 821.3,480.5 821.5,481.7 821.8,482.6 822.1,479.4 822.4,482.0 822.7,481.7 822.9,483.0 823.2,482.7 823.5,482.8 823.8,485.9 824.1,486.0 824.3,486.1 824.6,486.6 824.9,487.7 825.2,488.4 825.5,485.8 825.7,486.9 826.0,487.8 826.3,489.2 826.6,490.4 826.9,487.3 827.1,490.0 827.4,488.2 827.7,487.3 828.0,484.7 828.3,483.0 828.5,484.5 828.8,482.0 829.1,480.5 829.4,481.1 829.7,481.9 829.9,477.3 830.2,477.3 830.5,477.2 830.8,479.4 831.1,480.7 831.3,477.3 831.6,476.4 831.9,476.5 832.2,476.6 832.5,474.7 832.7,476.2 833.0,474.7 833.3,471.7 833.6,472.8 833.9,475.5 834.1,477.1 834.4,473.3 834.7,472.6 835.0,474.8 835.3,470.8 835.5,476.0 835.8,479.2 836.1,475.5 836.4,480.2 836.7,481.2 836.9,484.1 837.2,483.4 837.5,482.5 837.8,482.8 838.1,484.1 838.3,483.9 838.6,485.2 838.9,484.7 839.2,488.3 839.5,489.6 839.7,491.6 840.0,489.4 840.3,488.2 840.6,486.6 840.9,489.2 841.1,489.6 841.4,489.7 841.7,493.8 842.0,496.2 842.3,492.8 842.5,488.9 842.8,489.2 843.1,485.2 843.4,489.1 843.7,486.7 843.9,487.5 844.2,484.7 844.5,485.7 844.8,488.6 845.1,491.4 845.3,493.0 845.6,499.8 845.9,501.8 846.2,503.2 846.5,501.6 846.7,501.0 847.0,502.7 847.3,499.8 847.6,499.5 847.9,497.8 848.1,499.7 848.4,497.9 848.7,498.3 849.0,497.5 849.3,495.0 849.5,495.3 849.8,495.1 850.1,491.5 850.4,492.2 850.7,495.9 850.9,491.6 851.2,491.1 851.5,487.8 851.8,488.9 852.1,487.5 852.3,488.7 852.6,487.6 852.9,484.9 853.2,486.5 853.5,484.7 853.7,482.3 854.0,482.4 854.3,480.4 854.6,481.0 854.9,480.0 855.1,479.1 855.4,480.1 855.7,477.4 856.0,479.5 856.3,475.7 856.5,479.3 856.8,478.3 857.1,476.4 857.4,474.4 857.7,474.8 857.9,473.3 858.2,472.1 858.5,473.8 858.8,472.8 859.1,473.0 859.3,474.4 859.6,476.1 859.9,475.3 860.2,475.8 860.5,477.8 860.7,481.0 861.0,484.7 861.3,484.0 861.6,483.5 861.9,483.2 862.1,483.6 862.4,484.7 862.7,482.5 863.0,481.8 863.3,482.9 863.5,481.3 863.8,482.3 864.1,484.1 864.4,486.2 864.7,488.2 864.9,488.5 865.2,492.5 865.5,491.2 865.8,492.1 866.1,495.0 866.3,496.3 866.6,496.2 866.9,495.4 867.2,495.2 867.5,493.3 867.7,493.2 868.0,492.1 868.3,493.6 868.6,492.2 868.9,493.4 869.1,494.0 869.4,496.9 869.7,494.8 870.0,494.7 870.3,492.5 870.5,492.2 870.8,491.5 871.1,490.0 871.4,491.4 871.7,487.8 871.9,489.3 872.2,492.2 872.5,487.8 872.8,487.6 873.1,485.6 873.3,487.2 873.6,485.4 873.9,488.3 874.2,487.7 874.5,485.0 874.7,484.5 875.0,483.6 875.3,484.8 875.6,486.5 875.9,485.0 876.1,483.2 876.4,483.0 876.7,484.2 877.0,480.8 877.3,483.8 877.5,484.5 877.8,480.5 878.1,484.2 878.4,481.4 878.7,482.6 878.9,485.1 879.2,482.1 879.5,480.8 879.8,481.4 880.1,482.2 880.3,484.2 880.6,484.7 880.9,485.3 881.2,485.9 881.5,487.3 881.7,487.7 882.0,490.4 882.3,491.7 882.6,491.5 882.9,496.1 883.1,493.2 883.4,495.3 883.7,494.1 884.0,495.4 884.3,496.3 884.5,496.5 884.8,497.0 885.1,493.6 885.4,497.3 885.7,494.8 885.9,491.8 886.2,489.6 886.5,493.8 886.8,493.9 887.1,491.1 887.3,491.0 887.6,491.6 887.9,489.9 888.2,488.3 888.5,488.1 888.7,489.1 889.0,488.0 889.3,485.8 889.6,487.4 889.9,484.3 890.1,484.0 890.4,485.7 890.7,484.6 891.0,483.8 891.3,482.9 891.5,482.9 891.8,482.1 892.1,480.3 892.4,481.2 892.7,479.4 892.9,479.5 893.2,481.2 893.5,481.3"/>
</g>
<g stroke-width="2"><line x1="915" x2="945" y1="465.3" y2="465.3" stroke="#4169E1"/><line x1="915" x2="945" y1="484.2" y2="484.2" stroke="#FF8C00"/></g>
<g font-family="Liberation Sans, sans-serif" font-size="11" fill="#31333F">
<text x="950.5" y="470.1" textLength="26" lengthAdjust="spacingAndGlyphs">IWDA</text>
<text x="950" y="488.9" textLength="31.6" lengthAdjust="spacingAndGlyphs">3 ETFs</text>
</g>
</svg></div>
<span class="t" style="left:21.59px;top:27.08px;font-size:15.5px;transform:scaleX(0.9084)">iShares Core S&amp;P 500</span>
<span class="t" style="left:167.20px;top:27.08px;font-size:15.5px;transform:scaleX(0.6000)">|</span>
<span class="t" style="left:174.00px;top:27.08px;font-size:15.5px;transform:scaleX(0.7952)">CSPX</span>
<span class="t" style="left:211.40px;top:27.08px;font-size:15.5px;transform:scaleX(0.6000)">|</span>
<span class="t" style="left:217.81px;top:27.08px;font-size:15.5px;transform:scaleX(0.8936)">IE00B5BMR087</span>
<span class="t" style="left:21.59px;top:83.28px;font-size:15.5px;transform:scaleX(0.9128)">iShares Core MSCI Europe</span>
<span class="t" style="left:197.10px;top:83.28px;font-size:15.5px;transform:scaleX(0.6000)">|</span>
<span class="t" style="left:203.86px;top:83.28px;font-size:15.5px;transform:scaleX(0.8405)">IMAE</span>
<span class="t" style="left:240.50px;top:83.28px;font-size:15.5px;transform:scaleX(0.6000)">|</span>
<span class="t" style="left:246.91px;top:83.28px;font-size:15.5px;transform:scaleX(0.8943)">IE00B4K48X80</span>
<span class="t" style="left:21.59px;top:139.08px;font-size:15.5px;transform:scaleX(0.9137)">iShares Core MSCI Japan IMI</span>
<span class="t" style="left:213.82px;top:139.08px;font-size:15.5px;transform:scaleX(0.8829)">|IJPA</span>
<span class="t" style="left:249.80px;top:139.08px;font-size:15.5px;transform:scaleX(0.6000)">|</span>
<span class="t" style="left:255.72px;top:139.08px;font-size:15.5px;transform:scaleX(0.8762)">IE00B4L5YX21</span>
<span class="t" style="left:464.00px;top:27.18px;font-size:15.5px;transform:scaleX(0.9167)">0.00</span>
<span class="t" style="left:908.60px;top:27.18px;font-size:15.5px;transform:scaleX(0.8897)">65.00</span>
<span class="t" style="left:464.00px;top:83.18px;font-size:15.5px;transform:scaleX(0.9167)">0.00</span>
<span class="t" style="left:908.60px;top:83.18px;font-size:15.5px;transform:scaleX(0.8897)">25.00</span>
<span class="t" style="left:464.00px;top:139.18px;font-size:15.5px;transform:scaleX(0.9167)">0.00</span>
<span class="t" style="left:907.69px;top:139.18px;font-size:15.5px;transform:scaleX(0.9132)">10.00</span>
<span class="t" style="left:464.00px;top:195.68px;font-size:15.5px;transform:scaleX(0.9167)">0.00</span>
<span class="t" style="left:908.60px;top:195.68px;font-size:15.5px;transform:scaleX(0.8933)">0.00</span>
<span class="t" style="left:39.11px;top:243.58px;font-size:15.5px;transform:scaleX(0.8913)">Escala</span>
<span class="t" style="left:85.03px;top:243.58px;font-size:15.5px;transform:scaleX(0.9650)">Logarítmica</span>
<span class="t" style="left:27.40px;top:300.08px;font-size:15.5px;color:#004280;transform:scaleX(0.9380)">O seu backtest começa em</span>
<span class="t" style="left:207.20px;top:300.08px;font-size:15.5px;font-weight:700;color:#004280;transform:scaleX(0.9551)">2011-10-10</span>
<span class="t" style="left:286.30px;top:300.08px;font-size:15.5px;color:#004280;transform:scaleX(0.9275)">e acaba em</span>
<span class="t" style="left:365.00px;top:300.08px;font-size:15.5px;font-weight:700;color:#004280;transform:scaleX(0.9481)">2023-02-17</span>
<span class="t" style="left:509.75px;top:387.88px;font-size:15.5px;font-weight:700;transform:scaleX(0.9489)">Performance</span>
<span class="t" style="left:604.80px;top:387.88px;font-size:15.5px;font-weight:700;transform:scaleX(0.8778)">dos</span>
<span class="t" style="left:632.94px;top:387.88px;font-size:15.5px;font-weight:700;transform:scaleX(0.9614)">portfolios</span>
<span class="t" style="left:705.90px;top:387.88px;font-size:15.5px;font-weight:700;transform:scaleX(0.9111)">desde</span>
<span class="t" style="left:751.00px;top:387.88px;font-size:15.5px;font-weight:700;transform:scaleX(0.9872)">2011-10-10</span>
<span class="t" style="left:832.50px;top:387.88px;font-size:15.5px;font-weight:700;transform:scaleX(0.9636)">até</span>
<span class="t" style="left:857.60px;top:387.88px;font-size:15.5px;font-weight:700;transform:scaleX(0.9747)">2023-02-17</span>
</body></html>
